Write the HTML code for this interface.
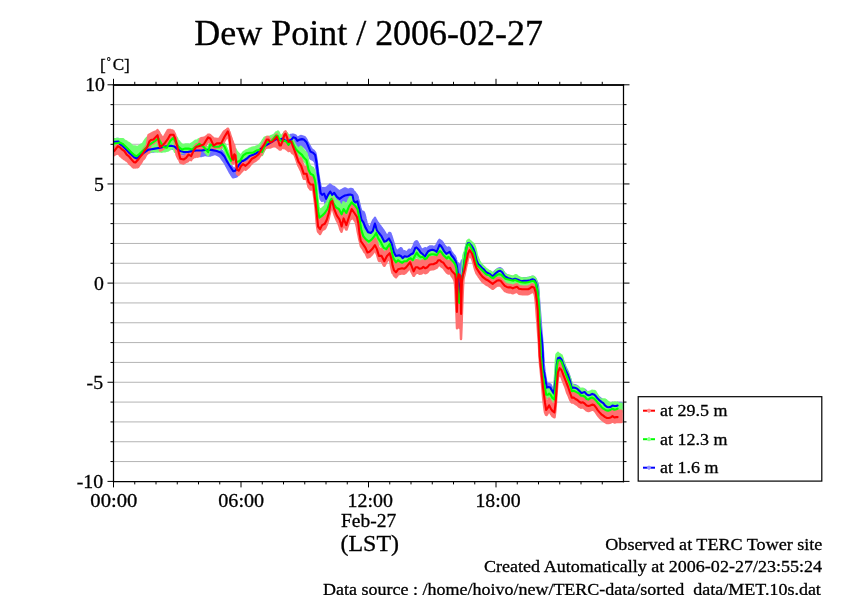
<!DOCTYPE html>
<html><head><meta charset="utf-8"><style>
html,body{margin:0;padding:0;background:#fff;}
svg{display:block;will-change:transform;}
text{font-family:"Liberation Serif","Times New Roman",serif;fill:#000;stroke:#000;stroke-width:0.3;}
.g{stroke:#b4b4b4;stroke-width:1;}
.t{stroke:#000;stroke-width:1;fill:none;}
.f{stroke:#000;stroke-width:1.3;fill:none;}
</style></head><body>
<svg width="842" height="595" viewBox="0 0 842 595">
<defs><clipPath id="pc"><rect x="113.5" y="84.8" width="510" height="396.6"/></clipPath></defs>
<rect width="842" height="595" fill="#fff"/>
<text x="194.22" y="45.3" font-size="35.0" textLength="348.82" lengthAdjust="spacingAndGlyphs">Dew Point / 2006-02-27</text>
<text x="341.01" y="526.6" font-size="19.2" textLength="55.28" lengthAdjust="spacingAndGlyphs">Feb-27</text>
<text x="340.52" y="550.7" font-size="22.3" textLength="58.53" lengthAdjust="spacingAndGlyphs">(LST)</text>
<text x="660.07" y="415.6" font-size="17" textLength="67.39" lengthAdjust="spacingAndGlyphs">at 29.5 m</text>
<text x="605.28" y="549.7" font-size="17.2" textLength="217.15" lengthAdjust="spacingAndGlyphs">Observed at TERC Tower site</text>
<text x="484.08" y="571.6" font-size="17.2" textLength="337.97" lengthAdjust="spacingAndGlyphs">Created Automatically at 2006-02-27/23:55:24</text>
<text x="323.06" y="594.5" font-size="17.2" textLength="497.82" lengthAdjust="spacingAndGlyphs">Data source : /home/hoivo/new/TERC-data/sorted_data/MET.10s.dat</text>
<text x="660.07" y="444.6" font-size="17" textLength="67.39" lengthAdjust="spacingAndGlyphs">at 12.3 m</text>
<text x="660.07" y="472.7" font-size="17" textLength="58.40" lengthAdjust="spacingAndGlyphs">at 1.6 m</text>
<text x="90.33" y="506.8" font-size="19.8" textLength="47.06" lengthAdjust="spacingAndGlyphs">00:00</text>
<text x="218.24" y="506.8" font-size="19.8" textLength="45.92" lengthAdjust="spacingAndGlyphs">06:00</text>
<text x="347.56" y="506.8" font-size="19.8" textLength="45.40" lengthAdjust="spacingAndGlyphs">12:00</text>
<text x="475.47" y="506.8" font-size="19.8" textLength="45.08" lengthAdjust="spacingAndGlyphs">18:00</text>
<text x="100.1" y="70.9" font-size="17.3">[</text>
<text x="106.8" y="64.6" font-size="10">°</text>
<text x="112.8" y="69.9" font-size="16.3" textLength="11.42" lengthAdjust="spacingAndGlyphs">C</text>
<text x="124.0" y="70.9" font-size="17.3">]</text>
<g font-size="19.8" text-anchor="end">
<text x="105" y="90.8">10</text>
<text x="103.9" y="190.8">5</text>
<text x="103.8" y="289.8">0</text>
<text x="103.1" y="388.8">-5</text>
<text x="103.1" y="487.9">-10</text>
</g>
<line x1="113.5" x2="623.5" y1="461.57" y2="461.57" class="g"/>
<line x1="113.5" x2="623.5" y1="441.74" y2="441.74" class="g"/>
<line x1="113.5" x2="623.5" y1="421.91" y2="421.91" class="g"/>
<line x1="113.5" x2="623.5" y1="402.08" y2="402.08" class="g"/>
<line x1="113.5" x2="623.5" y1="382.25" y2="382.25" class="g"/>
<line x1="113.5" x2="623.5" y1="362.42" y2="362.42" class="g"/>
<line x1="113.5" x2="623.5" y1="342.59" y2="342.59" class="g"/>
<line x1="113.5" x2="623.5" y1="322.76" y2="322.76" class="g"/>
<line x1="113.5" x2="623.5" y1="302.93" y2="302.93" class="g"/>
<line x1="113.5" x2="623.5" y1="283.10" y2="283.10" class="g"/>
<line x1="113.5" x2="623.5" y1="263.27" y2="263.27" class="g"/>
<line x1="113.5" x2="623.5" y1="243.44" y2="243.44" class="g"/>
<line x1="113.5" x2="623.5" y1="223.61" y2="223.61" class="g"/>
<line x1="113.5" x2="623.5" y1="203.78" y2="203.78" class="g"/>
<line x1="113.5" x2="623.5" y1="183.95" y2="183.95" class="g"/>
<line x1="113.5" x2="623.5" y1="164.12" y2="164.12" class="g"/>
<line x1="113.5" x2="623.5" y1="144.29" y2="144.29" class="g"/>
<line x1="113.5" x2="623.5" y1="124.46" y2="124.46" class="g"/>
<line x1="113.5" x2="623.5" y1="104.63" y2="104.63" class="g"/>
<g clip-path="url(#pc)">
<path d="M113.5,139.5 114,139.4 114.5,139.4 115,139.3 115.5,139.3 116,139.2 116.5,139.2 117,139.1 117.5,139.1 118,139 118.5,139 119,140 119.5,141.1 120,141.6 120.5,141.9 121,142.3 121.5,142.6 122,143 122.5,143.3 123,143.8 123.5,144.3 124,144.8 124.5,145.3 125,145.8 125.5,146.3 126,146.9 126.5,147.4 127,147.9 127.5,148.5 128,149.1 128.5,149.6 129,150 129.5,150.5 130,150.9 130.5,151.4 131,151.8 131.5,152.3 132,152.8 132.5,153.3 133,153.7 133.5,154.2 134,154.7 134.5,155.1 135,155.3 135.5,155.5 136,155.7 136.5,155.9 137,155.8 137.5,155.3 138,154.9 138.5,154.5 139,154.1 139.5,153.7 140,153.3 140.5,152.8 141,152.4 141.5,152 142,151.6 142.5,151.3 143,150.9 143.5,150.6 144,150.2 144.5,149.9 145,149.6 145.5,149.2 146,148.9 146.5,148.5 147,148.2 147.5,147.8 148,147.5 148.5,147.1 149,147.1 149.5,147 150,147 150.5,146.9 151,146.8 151.5,146.7 152,146.6 152.5,146.6 153,146.5 153.5,146.4 154,146.3 154.5,146.2 155,146.1 155.5,146 156,145.9 156.5,145.9 157,145.8 157.5,145.7 158,145.6 158.5,145.6 159,145.5 159.5,145.4 160,145.3 160.5,145.2 161,145.1 161.5,144.9 162,144.8 162.5,144.7 163,144.5 163.5,144.4 164,144.3 164.5,144.2 165,144 165.5,143.9 166,143.9 166.5,143.8 167,143.7 167.5,143.7 168,143.6 168.5,143.5 169,143.5 169.5,143.4 170,143.3 170.5,143.3 171,143.2 171.5,143.3 172,143.4 172.5,143.6 173,143.7 173.5,143.8 174,143.9 174.5,144.1 175,144.5 175.5,144.9 176,145.3 176.5,145.8 177,146.2 177.5,146.5 178,146.9 178.5,147.3 179,147.6 179.5,148 180,148.4 180.5,148.7 181,148.8 181.5,148.9 182,149.1 182.5,149.2 183,149.3 183.5,149.5 184,149.5 184.5,149.5 185,149.5 185.5,149.5 186,149.5 186.5,149.5 187,149.5 187.5,149.5 188,149.5 188.5,149.3 189,149.2 189.5,149.1 190,149 190.5,148.9 191,148.8 191.5,148.7 192,148.6 192.5,148.5 193,148.5 193.5,148.4 194,148.3 194.5,148.2 195,148.2 195.5,148.1 196,148 196.5,148 197,148 197.5,148 198,148 198.5,148 199,148 199.5,148 200,148 200.5,148 201,148 201.5,148 202,147.9 202.5,147.9 203,147.8 203.5,147.7 204,147.7 204.5,147.6 205,147.5 205.5,147.5 206,147.4 206.5,147.4 207,147.4 207.5,147.4 208,147.4 208.5,147.4 209,147.4 209.5,147.4 210,147.4 210.5,147.4 211,147.4 211.5,147.4 212,147.5 212.5,147.6 213,147.7 213.5,147.8 214,147.9 214.5,148 215,148.1 215.5,148.2 216,148.3 216.5,148.4 217,148.6 217.5,148.8 218,149 218.5,149.2 219,149.3 219.5,149.5 220,149.7 220.5,149.9 221,150.1 221.5,150.5 222,151.1 222.5,151.7 223,152.3 223.5,152.8 224,153.4 224.5,154 225,155 225.5,156 226,157 226.5,158 227,158.9 227.5,159.7 228,160.5 228.5,161.3 229,162.2 229.5,163 230,163.8 230.5,164.6 231,165.3 231.5,166.1 232,166.9 232.5,167.6 233,168.4 233.5,168.6 234,168.5 234.5,168.4 235,168.3 235.5,168 236,167.2 236.5,166.4 237,165.5 237.5,164.7 238,163.9 238.5,163 239,162.3 239.5,161.7 240,161 240.5,160.4 241,159.7 241.5,159.1 242,158.4 242.5,158.4 243,158.4 243.5,158.3 244,157.9 244.5,157.6 245,157.3 245.5,156.9 246,156.6 246.5,156.3 247,155.8 247.5,155.4 248,155 248.5,154.5 249,154.1 249.5,153.7 250,153.3 250.5,153.2 251,153 251.5,152.8 252,152.7 252.5,152.5 253,152.3 253.5,152.1 254,151.9 254.5,151.6 255,151.4 255.5,151.1 256,150.9 256.5,150.6 257,150.1 257.5,149.6 258,149.1 258.5,148.6 259,148.1 259.5,147.6 260,147.1 260.5,146.7 261,146.3 261.5,145.9 262,145.5 262.5,145 263,144.6 263.5,144.3 264,144 264.5,143.7 265,143.3 265.5,143 266,142.7 266.5,142.4 267,142.2 267.5,141.9 268,141.6 268.5,141.3 269,141 269.5,140.7 270,140.4 270.5,140.1 271,139.8 271.5,139.5 272,139.2 272.5,138.9 273,138.6 273.5,138.2 274,137.9 274.5,137.6 275,137.3 275.5,137 276,136.7 276.5,136.7 277,136.9 277.5,137.1 278,137.3 278.5,137.4 279,137.4 279.5,137.2 280,137.1 280.5,136.9 281,136.7 281.5,136.5 282,136.3 282.5,136.1 283,136.3 283.5,136.7 284,137.1 284.5,137.5 285,137.9 285.5,138.3 286,138.3 286.5,138.3 287,138.3 287.5,138.3 288,138.3 288.5,138.3 289,138.3 289.5,137.2 290,136.2 290.5,135.1 291,135.1 291.5,135.1 292,134.9 292.5,134.8 293,134.6 293.5,134.8 294,135 294.5,135.1 295,135.3 295.5,135.4 296,136.2 296.5,137 297,137.7 297.5,137.9 298,137.5 298.5,137.3 299,137 299.5,136.7 300,136.5 300.5,136.2 301,136.1 301.5,136.2 302,136.3 302.5,136.5 303,136.7 303.5,136.8 304,137 304.5,137.2 305,137.6 305.5,138.3 306,139.1 306.5,139.7 307,140.9 307.5,142 308,142.9 308.5,143.9 309,144.8 309.5,145.6 310,146.5 310.5,147.6 311,148.1 311.5,149 312,149.6 312.5,150.1 313,150.3 313.5,150.7 314,151.2 314.5,151.8 315,152.3 315.5,153.9 316,156.8 316.5,159.6 317,163.8 317.5,168 318,172 318.5,175.3 319,178.4 319.5,181.4 320,183.9 320.5,186.8 321,187.4 321.5,187.9 322,188.3 322.5,188.3 323,188.4 323.5,188.5 324,188.1 324.5,188.4 325,188.3 325.5,188 326,188.5 326.5,187.8 327,187.3 327.5,186.9 328,186.4 328.5,186 329,185.6 329.5,185.2 330,184.6 330.5,184.8 331,185.4 331.5,185.7 332,186.3 332.5,186.5 333,186.7 333.5,187 334,187.1 334.5,187.5 335,188 335.5,188.4 336,188.7 336.5,189.2 337,189.7 337.5,190.1 338,190.5 338.5,190.9 339,191.2 339.5,191.4 340,191 340.5,190.7 341,190.5 341.5,190.2 342,190 342.5,189.7 343,189.4 343.5,189.1 344,188.8 344.5,188.5 345,188.4 345.5,188.5 346,188.8 346.5,189.1 347,189.4 347.5,189.7 348,189.8 348.5,189.8 349,189.6 349.5,189.3 350,189.1 350.5,188.9 351,188.9 351.5,189.2 352,189.6 352.5,189.3 353,190.5 353.5,191.3 354,191.7 354.5,192.1 355,192.7 355.5,193.6 356,194.1 356.5,194.7 357,195.6 357.5,196.5 358,199 358.5,200.9 359,202.9 359.5,204.8 360,207 360.5,209 361,210.5 361.5,211.7 362,211.5 362.5,211.7 363,211.9 363.5,212 364,213 364.5,214.4 365,216.4 365.5,218.6 366,220.5 366.5,222.5 367,224.1 367.5,225.2 368,226 368.5,226.6 369,227.2 369.5,227.8 370,227.8 370.5,227.2 371,225.9 371.5,224.4 372,223.1 372.5,221.9 373,220.9 373.5,219.9 374,219.4 374.5,218.7 375,217.9 375.5,219.2 376,220 376.5,220.8 377,221.8 377.5,222.3 378,223.1 378.5,223.8 379,224.5 379.5,225.2 380,225.8 380.5,226.5 381,227.2 381.5,227.8 382,228.5 382.5,229.2 383,229.9 383.5,230.5 384,231.4 384.5,232.3 385,233 385.5,233.9 386,234.8 386.5,235.8 387,236.1 387.5,235.9 388,235.1 388.5,234.4 389,233.2 389.5,232.9 390,232.9 390.5,233.7 391,235.2 391.5,236.5 392,238.1 392.5,239.8 393,241.4 393.5,243.2 394,244.9 394.5,246.5 395,248 395.5,249.3 396,250 396.5,250.6 397,251 397.5,251 398,250.6 398.5,250.2 399,249.7 399.5,249.3 400,248.8 400.5,248.3 401,248.2 401.5,248.7 402,249.6 402.5,250.8 403,251.2 403.5,251.4 404,251.4 404.5,251.2 405,251.5 405.5,251.8 406,252.1 406.5,252.6 407,252.5 407.5,252 408,251.1 408.5,250.3 409,249.8 409.5,249.7 410,250.1 410.5,250.5 411,250.4 411.5,250 412,249.1 412.5,248.2 413,247.4 413.5,246.2 414,244.8 414.5,243.5 415,242.3 415.5,241.8 416,241.7 416.5,241.3 417,241.5 417.5,242.2 418,243.2 418.5,244.2 419,245.2 419.5,246.2 420,247 420.5,248 421,248.6 421.5,249.1 422,249.3 422.5,249.5 423,249.5 423.5,249.3 424,248.8 424.5,248.5 425,248.4 425.5,248.2 426,248.5 426.5,248.9 427,249 427.5,248.7 428,248 428.5,247.3 429,247 429.5,246.7 430,246.5 430.5,246.4 431,246.4 431.5,246.4 432,246.5 432.5,246.6 433,246.8 433.5,246.9 434,247.1 434.5,247.2 435,247 435.5,246.5 436,245.8 436.5,245.4 437,244.4 437.5,243.3 438,242.2 438.5,241.2 439,240.6 439.5,239.9 440,240.3 440.5,240.6 441,240.8 441.5,241.4 442,242 442.5,242.6 443,243.3 443.5,244.1 444,244.9 444.5,245.6 445,246.2 445.5,246.8 446,247.4 446.5,248 447,248 447.5,248 448,247.8 448.5,247.5 449,247.7 449.5,248 450,249.1 450.5,250.3 451,251.3 451.5,252.2 452,252.8 452.5,253.6 453,254.3 453.5,254.8 454,255.4 454.5,255.9 455,256.9 455.5,258 456,260 456.5,261.7 457,263.1 457.5,264.4 458,263.3 458.5,264.2 459,266.5 459.5,266.6 460,265.4 460.5,264.9 461,264.6 461.5,262.5 462,260.5 462.5,263.1 463,264.7 463.5,265.8 464,261.9 464.5,258.4 465,254.8 465.5,251.4 466,248.3 466.5,245.1 467,243.5 467.5,241.9 468,240.9 468.5,240.9 469,240.9 469.5,240.9 470,241.4 470.5,242 471,242.5 471.5,243.3 472,244.1 472.5,244.9 473,245.8 473.5,246.6 474,247.9 474.5,249.3 475,250.6 475.5,253 476,255.3 476.5,257.7 477,258.9 477.5,260 478,261.2 478.5,261.7 479,262.2 479.5,262.6 480,263.1 480.5,263.7 481,264.3 481.5,264.9 482,265.6 482.5,266 483,266.4 483.5,266.8 484,267.1 484.5,267.7 485,268.4 485.5,269 486,269.7 486.5,270 487,270.2 487.5,270.5 488,270.8 488.5,271 489,271.2 489.5,271.5 490,271.8 490.5,272.2 491,272.7 491.5,273.1 492,273.6 492.5,273.6 493,273.2 493.5,272.8 494,272.4 494.5,272 495,271.5 495.5,271 496,270.5 496.5,270.1 497,269.7 497.5,269.3 498,268.9 498.5,268.7 499,268.6 499.5,268.4 500,268.3 500.5,268.4 501,268.8 501.5,269.2 502,269.6 502.5,270.3 503,271.1 503.5,272 504,272.8 504.5,273.4 505,273.8 505.5,274.2 506,274.6 506.5,274.9 507,275.1 507.5,275.4 508,275.6 508.5,275.9 509,276 509.5,276.1 510,276.2 510.5,276.4 511,276.7 511.5,276.9 512,277.2 512.5,277.2 513,277 513.5,276.9 514,276.7 514.5,276.5 515,276.3 515.5,276.4 516,276.6 516.5,276.8 517,276.9 517.5,277.1 518,277.2 518.5,277.4 519,277.7 519.5,277.9 520,278.2 520.5,278.4 521,278.7 521.5,278.6 522,278.5 522.5,278.5 523,278.4 523.5,278.3 524,278.2 524.5,278.2 525,278.2 525.5,278.2 526,278.2 526.5,278.2 527,278.2 527.5,278.1 528,278.1 528.5,278 529,277.9 529.5,277.8 530,277.7 530.5,277.5 531,277.3 531.5,277.1 532,276.9 532.5,276.7 533,276.9 533.5,277.1 534,277.4 534.5,277.6 535,278.3 535.5,279.3 536,280 536.5,281.3 537,282.4 537.5,283.8 538,286.4 538.5,291.7 539,300.3 539.5,306.7 540,312.8 540.5,319.6 541,326.5 541.5,332.9 542,338.4 542.5,346.1 543,352.1 543.5,363.9 544,366.7 544.5,371.4 545,374.6 545.5,377.5 546,380.4 546.5,382.9 547,384.3 547.5,383.9 548,383.9 548.5,383.8 549,384 549.5,384.2 550,384.5 550.5,384.7 551,385.7 551.5,386.7 552,387.9 552.5,388.8 553,389.6 553.5,390.5 554,389.4 554.5,385.5 555,381.6 555.5,377.7 556,371.8 556.5,365.4 557,360.5 557.5,357.8 558,355.7 558.5,355.5 559,355.3 559.5,355.2 560,355.4 560.5,355.9 561,356.4 561.5,356.9 562,358.3 562.5,359.7 563,361 563.5,362.3 564,363.6 564.5,364.8 565,366 565.5,367.3 566,368.3 566.5,369.3 567,370.4 567.5,371.4 568,372.5 568.5,374 569,375.5 569.5,376.9 570,378.4 570.5,380.1 571,382.1 571.5,384.2 572,385.4 572.5,385.3 573,385.1 573.5,385 574,385.1 574.5,385.2 575,385.3 575.5,385.4 576,385.7 576.5,385.9 577,386.2 577.5,386.5 578,387 578.5,387.5 579,388 579.5,388.6 580,389.2 580.5,389.8 581,390.4 581.5,390.4 582,390.3 582.5,390.2 583,390.1 583.5,389.9 584,389.8 584.5,389.7 585,389.9 585.5,390.5 586,391.1 586.5,391.8 587,392.1 587.5,392.3 588,392.6 588.5,392.8 589,392.7 589.5,392.6 590,392.5 590.5,392.3 591,392 591.5,391.8 592,391.5 592.5,391.5 593,391.6 593.5,391.8 594,391.9 594.5,392.4 595,392.9 595.5,393.4 596,393.9 596.5,394.6 597,395.2 597.5,395.8 598,396.4 598.5,396.9 599,397.3 599.5,397.8 600,398.2 600.5,398.6 601,399 601.5,399.4 602,399.7 602.5,400.1 603,400.5 603.5,401 604,401.6 604.5,402.2 605,402.9 605.5,403.3 606,403.7 606.5,404 607,404.4 607.5,404.5 608,404.6 608.5,404.7 609,404.8 609.5,404.7 610,404.5 610.5,404.4 611,404.2 611.5,403.8 612,403.4 612.5,403 613,403.1 613.5,403.3 614,403.4 614.5,403.5 615,403.5 615.5,403.5 616,403.5 616.5,403.4 617,403.2 617.5,403 618,403 618.5,403 619,403 619.5,403 620,403 620.5,403 621,403 621.5,403 621.5,408 621,408 620.5,408 620,408 619.5,408 619,408 618.5,408 618,408 617.5,408 617,408.2 616.5,408.4 616,408.5 615.5,408.5 615,408.5 614.5,408.5 614,408.4 613.5,408.3 613,408.1 612.5,408 612,408.4 611.5,408.8 611,409.2 610.5,409.4 610,409.5 609.5,409.7 609,409.8 608.5,409.7 608,409.6 607.5,409.5 607,409.4 606.5,409 606,408.7 605.5,408.3 605,407.9 604.5,407.2 604,406.6 603.5,406 603,405.5 602.5,405.1 602,404.7 601.5,404.4 601,404 600.5,403.6 600,403.2 599.5,402.8 599,402.3 598.5,401.9 598,401.4 597.5,400.8 597,400.2 596.5,399.6 596,398.9 595.5,398.4 595,397.9 594.5,397.4 594,396.9 593.5,396.8 593,396.6 592.5,396.5 592,396.5 591.5,396.8 591,397 590.5,397.3 590,397.5 589.5,397.6 589,397.7 588.5,397.8 588,397.6 587.5,397.3 587,397.1 586.5,396.8 586,396.1 585.5,395.5 585,394.9 584.5,394.7 584,394.8 583.5,394.9 583,395.1 582.5,395.2 582,395.3 581.5,395.4 581,395.4 580.5,394.8 580,394.2 579.5,393.6 579,393 578.5,392.5 578,392 577.5,391.5 577,391.2 576.5,390.9 576,390.7 575.5,390.4 575,390.3 574.5,390.2 574,390.1 573.5,390 573,390.1 572.5,390.3 572,390.4 571.5,389.2 571,387.1 570.5,385.1 570,383.4 569.5,381.9 569,380.5 568.5,379 568,377.5 567.5,376.4 567,375.4 566.5,374.3 566,373.3 565.5,372.3 565,371 564.5,369.8 564,368.6 563.5,367.3 563,366 562.5,364.7 562,363.3 561.5,361.9 561,361.4 560.5,360.9 560,360.4 559.5,360.2 559,360.3 558.5,360.5 558,360.7 557.5,362.8 557,365.5 556.5,370.4 556,376.8 555.5,382.7 555,386.6 554.5,390.5 554,394.4 553.5,395.5 553,394.6 552.5,393.8 552,392.9 551.5,392.1 551,391.3 550.5,390.4 550,390 549.5,389.9 549,389.7 548.5,389.6 548,389.7 547.5,389.9 547,390 546.5,388.4 546,385.4 545.5,382.5 545,379.6 544.5,377 544,374.3 543.5,371.7 543,359.3 542.5,351.2 542,344 541.5,340.2 541,336.3 540.5,333.7 540,331 539.5,328.3 539,322.1 538.5,312.2 538,304.1 537.5,298.5 537,294 536.5,291 536,288.8 535.5,287.8 535,286.8 534.5,286.1 534,285.9 533.5,285.6 533,285.4 532.5,285.2 532,285.4 531.5,285.6 531,285.8 530.5,286 530,286.2 529.5,286.3 529,286.4 528.5,286.5 528,286.6 527.5,286.6 527,286.7 526.5,286.7 526,286.7 525.5,286.7 525,286.7 524.5,286.7 524,286.7 523.5,286.8 523,286.9 522.5,287 522,287 521.5,287.1 521,287.2 520.5,286.9 520,286.7 519.5,286.4 519,286.2 518.5,285.9 518,285.7 517.5,285.6 517,285.4 516.5,285.2 516,285.1 515.5,284.9 515,284.8 514.5,285 514,285.2 513.5,285.4 513,285.5 512.5,285.7 512,285.7 511.5,285.4 511,285.2 510.5,284.9 510,284.7 509.5,284.6 509,284.5 508.5,284.4 508,284.1 507.5,283.9 507,283.6 506.5,283.4 506,283.1 505.5,282.7 505,282.3 504.5,281.9 504,281.3 503.5,280.5 503,279.6 502.5,278.8 502,278.1 501.5,277.7 501,277.3 500.5,276.9 500,276.8 499.5,276.9 499,277.1 498.5,277.2 498,277.4 497.5,277.8 497,278.2 496.5,278.6 496,279 495.5,279.5 495,280 494.5,280.5 494,280.9 493.5,281.3 493,281.7 492.5,282.1 492,282.1 491.5,281.6 491,281.2 490.5,280.7 490,280.2 489.5,280 489,279.8 488.5,279.5 488,279.2 487.5,279 487,278.8 486.5,278.5 486,278.2 485.5,277.5 485,276.9 484.5,276.2 484,275.6 483.5,275.2 483,274.9 482.5,274.5 482,274.1 481.5,273.4 481,272.8 480.5,272.2 480,271.6 479.5,271.1 479,270.7 478.5,270.2 478,269.7 477.5,268.5 477,267.4 476.5,266.2 476,263.8 475.5,261.5 475,259.1 474.5,257.8 474,256.4 473.5,255.1 473,254.2 472.5,253.4 472,252.6 471.5,251.8 471,251 470.5,250.5 470,249.9 469.5,249.4 469,249.4 468.5,249.4 468,249.4 467.5,250.4 467,252 466.5,253.6 466,256.8 465.5,259.9 465,263.3 464.5,266.9 464,270.4 463.5,274.3 463,278.2 462.5,281.2 462,283.1 461.5,285 461,288.2 460.5,291.4 460,295.5 459.5,298.5 459,296 458.5,287.7 458,280.3 457.5,276.5 457,272.8 456.5,270.2 456,268.5 455.5,266.9 455,266.1 454.5,265.3 454,264.5 453.5,263.7 453,263.1 452.5,262.5 452,261.9 451.5,261.3 451,260.4 450.5,259.4 450,258.4 449.5,257.9 449,258.2 448.5,258.5 448,258.8 447.5,259.2 447,259.5 446.5,259.8 446,259.5 445.5,258.9 445,258.4 444.5,257.8 444,257 443.5,256.1 443,255.1 442.5,254.3 442,253.5 441.5,252.8 441,252 440.5,251.5 440,251.1 439.5,250.9 439,252.1 438.5,253.4 438,254.6 437.5,255.8 437,257.1 436.5,257.7 436,257.3 435.5,257 435,256.7 434.5,256.5 434,256.3 433.5,256.1 433,255.9 432.5,255.8 432,255.8 431.5,255.9 431,256 430.5,256.1 430,256.4 429.5,256.6 429,256.9 428.5,257.1 428,257.6 427.5,258.4 427,259.1 426.5,259.9 426,260.7 425.5,261.5 425,262.4 424.5,262.3 424,261.7 423.5,261.1 423,260.4 422.5,260 422,259.6 421.5,259.3 421,258.9 420.5,258.4 420,257.6 419.5,256.9 419,256.1 418.5,255.5 418,255 417.5,254.4 417,253.9 416.5,253.7 416,253.8 415.5,254 415,254.6 414.5,255.9 414,257.2 413.5,258.4 413,259.3 412.5,259.5 412,259.8 411.5,260 411,260.4 410.5,260.7 410,261.1 409.5,261.5 409,261.9 408.5,262.2 408,262.4 407.5,262.5 407,262.6 406.5,262.7 406,262.5 405.5,262.4 405,262.3 404.5,262.3 404,262.8 403.5,263.3 403,263.8 402.5,264.1 402,263.4 401.5,262.7 401,262.1 400.5,261.9 400,261.6 399.5,261.4 399,261.2 398.5,261.4 398,261.5 397.5,261.6 397,261.7 396.5,261.8 396,261.9 395.5,261.5 395,260.5 394.5,259.4 394,258.4 393.5,257 393,255 392.5,253 392,251 391.5,249.4 391,248.4 390.5,247.4 390,246.4 389.5,245.4 389,244.4 388.5,244.9 388,245.4 387.5,245.9 387,246.4 386.5,246.9 386,247.2 385.5,247.3 385,247.5 384.5,247.6 384,247.1 383.5,246.1 383,245.1 382.5,244.2 382,243.2 381.5,242.3 381,241.6 380.5,241 380,240.4 379.5,239.8 379,239.1 378.5,238.5 378,237.8 377.5,237.1 377,236.4 376.5,235 376,233.3 375.5,231.6 375,229.9 374.5,231 374,232.8 373.5,234.5 373,236.3 372.5,237.3 372,237.8 371.5,238.3 371,238.8 370.5,238.9 370,238.8 369.5,238.7 369,238.5 368.5,238.4 368,238.1 367.5,237.2 367,236.3 366.5,235.4 366,234.5 365.5,233.6 365,232.3 364.5,231.1 364,229.8 363.5,228.6 363,227.8 362.5,227.1 362,226.4 361.5,225.7 361,223.6 360.5,221.1 360,218.5 359.5,216 359,213.9 358.5,211.9 358,209.8 357.5,207.8 357,207.6 356.5,207.9 356,208.2 355.5,208.5 355,208.1 354.5,207.6 354,207.2 353.5,206 353,203.6 352.5,201.2 352,201 351.5,200.9 351,200.7 350.5,200.6 350,200.5 349.5,200.6 349,200.7 348.5,200.8 348,200.8 347.5,200.9 347,201 346.5,201.1 346,201.3 345.5,201.4 345,201.5 344.5,201.7 344,202 343.5,202.3 343,202.5 342.5,202.8 342,203.1 341.5,203.5 341,203.9 340.5,204.2 340,204.6 339.5,204.8 339,204.5 338.5,204.1 338,203.7 337.5,203.3 337,203 336.5,202.3 336,201.5 335.5,200.8 335,200 334.5,199.3 334,199 333.5,199.5 333,200.1 332.5,200.6 332,200.6 331.5,199.7 331,198.9 330.5,198 330,197.8 329.5,198.6 329,199.4 328.5,200.3 328,201.1 327.5,202.1 327,203.1 326.5,204.1 326,204.6 325.5,203.3 325,201.9 324.5,200.6 324,199.6 323.5,199.9 323,200.3 322.5,200.6 322,200.8 321.5,200.1 321,199.5 320.5,198.2 320,194.5 319.5,190.7 319,187.2 318.5,184.2 318,181.1 317.5,177.5 317,173.3 316.5,169.4 316,166.6 315.5,163.7 315,161.8 314.5,161.3 314,160.7 313.5,160.2 313,159.8 312.5,159.6 312,159.3 311.5,159.1 311,158.8 310.5,158.6 310,157.4 309.5,156.2 309,155.1 308.5,153.9 308,152.7 307.5,151.6 307,150.4 306.5,149.2 306,148.7 305.5,148.2 305,147.7 304.5,147.2 304,146.7 303.5,146.4 303,146.3 302.5,146.2 302,146.1 301.5,146.2 301,146.3 300.5,146.4 300,146.5 299.5,146.7 299,146.9 298.5,147.2 298,147.4 297.5,147.7 297,147.3 296.5,146.5 296,145.7 295.5,144.9 295,144.8 294.5,144.6 294,144.5 293.5,144.4 293,144.6 292.5,145.2 292,145.8 291.5,146.5 291,146.8 290.5,147.1 290,145.8 289.5,144.6 289,143.3 288.5,143.3 288,143.3 287.5,143.3 287,143.3 286.5,143.3 286,143.3 285.5,143.3 285,142.9 284.5,142.5 284,142.1 283.5,141.7 283,141.3 282.5,141.1 282,141.3 281.5,141.5 281,141.7 280.5,141.9 280,142.1 279.5,142.2 279,142.4 278.5,142.4 278,142.3 277.5,142.1 277,141.9 276.5,141.7 276,141.7 275.5,142 275,142.3 274.5,142.6 274,142.9 273.5,143.2 273,143.6 272.5,143.9 272,144.2 271.5,144.5 271,144.8 270.5,145.1 270,145.4 269.5,145.7 269,146 268.5,146.3 268,146.6 267.5,146.9 267,147.2 266.5,147.4 266,147.7 265.5,148 265,148.3 264.5,148.7 264,149 263.5,149.3 263,149.6 262.5,150 262,150.5 261.5,150.9 261,151.3 260.5,151.7 260,152.1 259.5,152.6 259,153.1 258.5,153.6 258,154.1 257.5,154.6 257,155.1 256.5,155.6 256,155.9 255.5,156.1 255,156.4 254.5,156.6 254,156.9 253.5,157.1 253,157.3 252.5,157.5 252,157.7 251.5,157.8 251,158 250.5,158.2 250,158.3 249.5,158.7 249,159.1 248.5,159.5 248,160 247.5,160.4 247,160.8 246.5,161.3 246,161.6 245.5,161.9 245,162.3 244.5,162.6 244,162.9 243.5,163.3 243,163.4 242.5,163.4 242,163.4 241.5,164.1 241,164.7 240.5,165.4 240,166 239.5,166.7 239,167.3 238.5,168 238,170.9 237.5,173.6 237,176.1 236.5,176.3 236,176.5 235.5,176.8 235,176.8 234.5,176.9 234,177 233.5,177.3 233,177.2 232.5,176.5 232,175.7 231.5,175 231,174.2 230.5,173.4 230,172.6 229.5,171.7 229,170.7 228.5,169.8 228,168.8 227.5,167.9 227,167 226.5,166.1 226,165.1 225.5,164.1 225,163.3 224.5,162.4 224,161.8 223.5,161.1 223,160.4 222.5,159.7 222,159 221.5,158.2 221,157.5 220.5,156.9 220,156.4 219.5,156 219,155.7 218.5,155.5 218,155.2 217.5,155 217,154.7 216.5,154.5 216,154.3 215.5,154 215,153.9 214.5,154 214,154.2 213.5,154.3 213,154.5 212.5,154.7 212,154.9 211.5,155 211,155.2 210.5,155.4 210,155.5 209.5,155.5 209,155.5 208.5,155.4 208,155.4 207.5,155.3 207,155.2 206.5,155.2 206,155.1 205.5,155.1 205,155.1 204.5,155.1 204,155.2 203.5,155.4 203,155.5 202.5,155.6 202,155.7 201.5,155.9 201,156 200.5,156.1 200,155.1 199.5,154.1 199,153 198.5,153 198,153 197.5,153 197,153 196.5,153 196,153 195.5,153.1 195,153.2 194.5,153.2 194,153.3 193.5,153.4 193,153.5 192.5,153.5 192,153.6 191.5,153.7 191,153.8 190.5,153.9 190,154 189.5,154.1 189,154.2 188.5,154.3 188,154.5 187.5,154.5 187,154.5 186.5,154.5 186,154.5 185.5,154.5 185,154.5 184.5,154.5 184,154.5 183.5,154.5 183,154.3 182.5,154.2 182,154.1 181.5,153.9 181,153.8 180.5,153.7 180,153.4 179.5,153 179,152.6 178.5,152.3 178,151.9 177.5,151.5 177,151.2 176.5,150.8 176,150.3 175.5,149.9 175,149.5 174.5,149.1 174,148.9 173.5,148.8 173,148.7 172.5,148.6 172,148.4 171.5,148.3 171,148.2 170.5,148.3 170,148.3 169.5,148.4 169,148.5 168.5,148.5 168,148.6 167.5,148.7 167,148.7 166.5,148.8 166,148.9 165.5,148.9 165,149 164.5,149.2 164,149.3 163.5,149.4 163,149.5 162.5,149.7 162,149.8 161.5,149.9 161,150.1 160.5,150.2 160,150.3 159.5,150.4 159,150.5 158.5,150.6 158,150.6 157.5,150.7 157,150.8 156.5,150.9 156,150.9 155.5,151 155,151.1 154.5,151.2 154,151.3 153.5,151.4 153,151.5 152.5,151.6 152,151.6 151.5,151.7 151,151.8 150.5,151.9 150,152 149.5,152 149,152.1 148.5,152.1 148,152.5 147.5,152.8 147,153.2 146.5,153.5 146,153.9 145.5,154.2 145,154.6 144.5,154.9 144,155.2 143.5,155.6 143,155.9 142.5,156.3 142,156.6 141.5,157 141,157.4 140.5,157.8 140,158.3 139.5,158.7 139,159.1 138.5,159.5 138,159.9 137.5,160.3 137,160.8 136.5,160.9 136,160.7 135.5,160.5 135,160.3 134.5,160.1 134,159.7 133.5,159.2 133,158.7 132.5,158.3 132,157.8 131.5,157.3 131,156.8 130.5,156.4 130,155.9 129.5,155.5 129,155 128.5,154.6 128,154.1 127.5,153.5 127,152.9 126.5,152.4 126,151.9 125.5,151.3 125,150.8 124.5,150.3 124,149.8 123.5,149.3 123,148.8 122.5,148.3 122,148 121.5,147.6 121,147.3 120.5,146.9 120,146.6 119.5,146.1 119,145 118.5,144 118,144 117.5,144.1 117,144.1 116.5,144.2 116,144.2 115.5,144.3 115,144.3 114.5,144.4 114,144.4 113.5,144.5Z" fill="#7070ff" stroke="#7070ff" stroke-width="2.5" stroke-linejoin="round"/>
<path d="M113.5,139.5 114,139.4 114.5,139.3 115,139.2 115.5,139.2 116,139.2 116.5,139.1 117,139.1 117.5,139.1 118,139 118.5,139.3 119,139.4 119.5,139.5 120,139.4 120.5,139.3 121,139.2 121.5,139.4 122,139.3 122.5,139.2 123,139.3 123.5,139.7 124,140.2 124.5,140.6 125,141.1 125.5,141.2 126,141.3 126.5,141.5 127,142.1 127.5,142.6 128,142.7 128.5,142.9 129,143.1 129.5,143.6 130,144 130.5,144.5 131,145 131.5,145.5 132,146 132.5,146.4 133,146.6 133.5,146.7 134,146.5 134.5,146.6 135,146.5 135.5,146.7 136,146.9 136.5,147.1 137,146.9 137.5,146.9 138,146.8 138.5,146.7 139,146.3 139.5,145.8 140,145.4 140.5,144.9 141,144.8 141.5,144.6 142,144.5 142.5,144.1 143,143.6 143.5,142.8 144,142 144.5,141.3 145,140.5 145.5,139.7 146,138.9 146.5,138.5 147,137.7 147.5,139.2 148,140.8 148.5,142.7 149,142.3 149.5,141.8 150,141.4 150.5,141.1 151,140.7 151.5,140.4 152,140 152.5,139.7 153,139.4 153.5,139 154,138.7 154.5,138.3 155,138 155.5,137.6 156,137.2 156.5,136.9 157,136.5 157.5,136.1 158,135.7 158.5,135.6 159,136.4 159.5,137.3 160,138.2 160.5,139 161,139.9 161.5,140.7 162,141.5 162.5,142.4 163,143.2 163.5,143.9 164,144.1 164.5,144.2 165,144.3 165.5,144.5 166,144.6 166.5,144.7 167,144.4 167.5,143.4 168,142.4 168.5,141.4 169,140.5 169.5,139.5 170,138.5 170.5,137.8 171,137.3 171.5,136.8 172,136.2 172.5,135.7 173,135.2 173.5,134.7 174,135.7 174.5,136.7 175,137.7 175.5,137.7 176,137.7 176.5,137.5 177,138.6 177.5,139.8 178,140.6 178.5,141.1 179,141.5 179.5,142.3 180,143 180.5,143.4 181,143.8 181.5,144.2 182,144.8 182.5,145 183,145.2 183.5,145.1 184,144.9 184.5,144.8 185,144.7 185.5,144.6 186,144.6 186.5,144.6 187,144.6 187.5,144.6 188,144.6 188.5,144.6 189,144.7 189.5,144.8 190,144.6 190.5,144.4 191,143.9 191.5,143.7 192,143.5 192.5,143.1 193,142.7 193.5,142.4 194,142 194.5,141.6 195,141.2 195.5,140.8 196,140.8 196.5,140.7 197,140.7 197.5,140.3 198,140 198.5,139.6 199,139.2 199.5,139.6 200,140.7 200.5,141.7 201,142.1 201.5,142.4 202,142.8 202.5,143.1 203,143.5 203.5,143.9 204,144.3 204.5,144.9 205,145.5 205.5,146.1 206,146.7 206.5,147.2 207,147.8 207.5,148.4 208,149 208.5,147.7 209,146 209.5,144.3 210,142.5 210.5,141.6 211,141.8 211.5,142.1 212,142.3 212.5,142.6 213,142.8 213.5,143.1 214,143.3 214.5,143.6 215,143.7 215.5,143.7 216,143.7 216.5,143.7 217,143.7 217.5,143.7 218,143.7 218.5,143.7 219,143.7 219.5,143.3 220,142.9 220.5,142.4 221,142 221.5,141.6 222,141.2 222.5,141.2 223,141.8 223.5,142.4 224,143.1 224.5,143.7 225,144.9 225.5,146 226,147.2 226.5,148.3 227,149.5 227.5,150.6 228,151.7 228.5,152.7 229,153.8 229.5,154.8 230,155.8 230.5,156.9 231,157.9 231.5,156.7 232,155.4 232.5,154.1 233,152.9 233.5,153 234,154 234.5,152.3 235,150.7 235.5,149.3 236,150.3 236.5,151.7 237,151.8 237.5,152.7 238,153.2 238.5,153.7 239,154.2 239.5,155 240,155.6 240.5,155.4 241,154.9 241.5,154.7 242,154.2 242.5,153.7 243,152.9 243.5,152.3 244,151.9 244.5,151.6 245,151.3 245.5,150.9 246,150.6 246.5,150.3 247,150.1 247.5,150.1 248,150 248.5,149.6 249,149.2 249.5,148.7 250,148.7 250.5,148.7 251,148.4 251.5,148 252,147.7 252.5,147.7 253,147.7 253.5,147.4 254,147.4 254.5,147.4 255,147.4 255.5,147.1 256,146.8 256.5,146.5 257,146.4 257.5,146.3 258,146.2 258.5,145.8 259,145.4 259.5,144.9 260,144.5 260.5,144 261,143.1 261.5,142.5 262,142.3 262.5,140.9 263,140.1 263.5,139.4 264,138.6 264.5,137.8 265,137.5 265.5,137.5 266,137.4 266.5,137.1 267,137 267.5,137 268,137 268.5,137 269,137 269.5,136.8 270,136.6 270.5,136.4 271,136.2 271.5,136 272,135.8 272.5,135.6 273,135.4 273.5,135.2 274,134.9 274.5,134.6 275,133.9 275.5,133.3 276,132.6 276.5,132.6 277,132.5 277.5,132 278,131.6 278.5,132.3 279,133.4 279.5,134.4 280,135.2 280.5,136 281,136.4 281.5,136.1 282,135.8 282.5,135 283,134.6 283.5,133.8 284,133.4 284.5,132.6 285,132.2 285.5,132.2 286,132.5 286.5,132.9 287,133.5 287.5,134.3 288,134.8 288.5,135.9 289,135.6 289.5,137.2 290,138.2 290.5,139.4 291,139.1 291.5,138.7 292,138.4 292.5,139.5 293,140.7 293.5,141.8 294,142.9 294.5,143.7 295,144.6 295.5,145.5 296,146.4 296.5,147 297,147.5 297.5,148 298,148.5 298.5,149 299,149.4 299.5,148.5 300,147.6 300.5,146.7 301,147.1 301.5,147.5 302,147.9 302.5,148.7 303,149.4 303.5,150.1 304,150.8 304.5,151.3 305,151.8 305.5,152.3 306,152.8 306.5,153.3 307,155.7 307.5,158 308,160.3 308.5,162.7 309,163.7 309.5,164.8 310,165.8 310.5,166.8 311,167 311.5,167.3 312,167.5 312.5,167.8 313,168 313.5,169 314,170.4 314.5,171.8 315,174.2 315.5,177.4 316,182.6 316.5,187.8 317,193.1 317.5,198.4 318,203.6 318.5,206.5 319,208.9 319.5,210.6 320,210.3 320.5,209.9 321,209.5 321.5,209.1 322,208.8 322.5,208.3 323,207.8 323.5,207.3 324,206.8 324.5,206.3 325,205.7 325.5,205 326,204.2 326.5,203.5 327,202.7 327.5,202 328,200.5 328.5,199 329,197.5 329.5,196 330,194.5 330.5,193.8 331,194 331.5,193.9 332,195.1 332.5,195.2 333,195.8 333.5,196.6 334,197.3 334.5,198.1 335,198.8 335.5,199.6 336,200.3 336.5,200.8 337,201 337.5,201.3 338,201.5 338.5,201.8 339,202.2 339.5,203.2 340,204.2 340.5,205.2 341,206.2 341.5,207.2 342,206.3 342.5,205 343,203.6 343.5,202.3 344,202.6 344.5,203.3 345,204.1 345.5,204.8 346,205.6 346.5,205.5 347,204.3 347.5,203 348,201.8 348.5,200.5 349,199.3 349.5,198.6 350,197.8 350.5,197.1 351,196.3 351.5,195.6 352,195.6 352.5,196.8 353,198.7 353.5,200.5 354,201.7 354.5,202.2 355,202.7 355.5,202.9 356,202.9 356.5,202.6 357,202.6 357.5,202.9 358,205 358.5,207 359,209.3 359.5,211.8 360,214.8 360.5,217.9 361,220.9 361.5,223.6 362,225.1 362.5,226.7 363,228.2 363.5,229.5 364,230.1 364.5,230.7 365,231.4 365.5,232 366,232.6 366.5,233 367,233.4 367.5,233.7 368,234.1 368.5,234.5 369,234.6 369.5,234.2 370,233.8 370.5,233.8 371,233.7 371.5,233.7 372,233.1 372.5,232.1 373,231.2 373.5,230.3 374,229.6 374.5,228.9 375,228 375.5,227.9 376,228 376.5,229.5 377,231.2 377.5,232.2 378,233.2 378.5,233.8 379,234.3 379.5,234.7 380,235.1 380.5,235.8 381,236.6 381.5,237.6 382,238.6 382.5,239.6 383,240.6 383.5,241.6 384,242 384.5,242.2 385,242.5 385.5,242.4 386,242.3 386.5,241.8 387,241.3 387.5,240.9 388,240.4 388.5,240 389,239.9 389.5,240.1 390,241.2 390.5,242.6 391,243.4 391.5,244.2 392,245.9 392.5,247.9 393,250.5 393.5,251.8 394,253.1 394.5,254.4 395,255.5 395.5,256.6 396,257.3 396.5,256.8 397,256.6 397.5,256.5 398,256.3 398.5,256.2 399,256.3 399.5,256.3 400,256.7 400.5,257 401,257.2 401.5,257.8 402,258.8 402.5,259.2 403,259.1 403.5,258.4 404,257.7 404.5,257.3 405,257.3 405.5,257.3 406,257.3 406.5,257.6 407,257.5 407.5,257.4 408,256.8 408.5,256.3 409,256 409.5,255.8 410,255.5 410.5,255.3 411,255.2 411.5,255 412,254.8 412.5,255 413,254.6 413.5,253.6 414,252.3 414.5,250.9 415,249.7 415.5,249.1 416,248.9 416.5,248.7 417,249.2 417.5,249.6 418,250 418.5,250.4 419,251.3 419.5,252 420,252.7 420.5,253.4 421,253.8 421.5,254 422,253.9 422.5,253.8 423,253.9 423.5,254.6 424,255.2 424.5,255.8 425,256.1 425.5,255.9 426,255.6 426.5,255 427,254.2 427.5,253.1 428,252.4 428.5,252 429,251.8 429.5,251.9 430,251.7 430.5,251.5 431,251.3 431.5,251.2 432,251.2 432.5,251.2 433,251.2 433.5,251.2 434,251.3 434.5,251.4 435,251.5 435.5,251.6 436,251.9 436.5,252.1 437,251.7 437.5,250.6 438,249.5 438.5,248.2 439,247 439.5,246.2 440,245.7 440.5,246.5 441,246.9 441.5,247.4 442,248.1 442.5,249.2 443,250.3 443.5,251.3 444,252.1 444.5,252.9 445,253.7 445.5,254.2 446,254.7 446.5,254.9 447,254.6 447.5,254.1 448,253.9 448.5,253.6 449,253.4 449.5,253.2 450,253.7 450.5,254.6 451,255.4 451.5,256.2 452,257.1 452.5,257.9 453,258.4 453.5,258.9 454,259.6 454.5,260.4 455,260.8 455.5,261.8 456,262.9 456.5,264.8 457,271.2 457.5,278 458,285.5 458.5,293 459,294.9 459.5,294.3 460,290 460.5,286.3 461,282.3 461.5,279.9 462,276.8 462.5,268.9 463,261.6 463.5,255.3 464,253.8 464.5,252.6 465,251.3 465.5,249.4 466,246.5 466.5,244.6 467,242.6 467.5,241 468,240.6 468.5,240.2 469,239.8 469.5,240.7 470,241.2 470.5,241.4 471,241.8 471.5,242.2 472,242.9 472.5,243.1 473,243.7 473.5,244.2 474,244.8 474.5,246.1 475,247.5 475.5,249.2 476,251.2 476.5,253.5 477,255.9 477.5,257 478,258.2 478.5,259.6 479,260.8 479.5,261.6 480,262.4 480.5,263.3 481,264.1 481.5,264.6 482,265.1 482.5,265.7 483,266.2 483.5,266.7 484,267.2 484.5,267.7 485,268.2 485.5,268.6 486,269 486.5,269.4 487,269.7 487.5,269.9 488,270.4 488.5,270.8 489,271.3 489.5,271.3 490,271.5 490.5,271.6 491,272.1 491.5,272.5 492,273 492.5,273.6 493,274.2 493.5,274 494,273.5 494.5,273 495,272.2 495.5,271.4 496,270.7 496.5,270.3 497,269.9 497.5,269.7 498,269.6 498.5,269.5 499,269.4 499.5,269.4 500,269.5 500.5,269.6 501,269.8 501.5,269.8 502,270.2 502.5,270.7 503,271.5 503.5,272 504,272.8 504.5,273.7 505,274.5 505.5,274.9 506,275 506.5,275.1 507,275.2 507.5,275.4 508,275.5 508.5,275.6 509,275.7 509.5,275.9 510,276 510.5,276.1 511,276.2 511.5,276.4 512,276.5 512.5,276.6 513,276.7 513.5,276.7 514,276.3 514.5,276 515,275.4 515.5,275.3 516,275.2 516.5,275.4 517,275.7 517.5,276.3 518,276.9 518.5,277.4 519,277.5 519.5,277.7 520,277.9 520.5,278 521,278.2 521.5,278.3 522,278.3 522.5,278.4 523,278.4 523.5,278.5 524,278.6 524.5,278.6 525,278.7 525.5,278.6 526,278.6 526.5,278.5 527,278.4 527.5,278.3 528,278.2 528.5,278.1 529,277.9 529.5,277.7 530,277.6 530.5,277.4 531,277.2 531.5,277.1 532,277 532.5,276.9 533,276.8 533.5,276.7 534,277.2 534.5,277.8 535,278.4 535.5,279 536,280.6 536.5,282.9 537,285.3 537.5,288.8 538,293.2 538.5,297.6 539,306 539.5,316.6 540,327.1 540.5,339 541,349.9 541.5,355.1 542,360.3 542.5,365.5 543,369.1 543.5,372.4 544,375.7 544.5,378.8 545,381.4 545.5,384 546,386.7 546.5,388 547,388.4 547.5,388.7 548,388.6 548.5,388.4 549,387.9 549.5,388.2 550,388.4 550.5,388.9 551,389.5 551.5,390.3 552,391.2 552.5,392 553,391.5 553.5,389.5 554,386.8 554.5,384.9 555,377.4 555.5,368.8 556,360.1 556.5,354.7 557,353.7 557.5,353.8 558,352.9 558.5,353.7 559,353.9 559.5,354.1 560,354.3 560.5,354.8 561,355.3 561.5,355.5 562,356.8 562.5,358.2 563,360.3 563.5,362 564,363.8 564.5,365.3 565,366.7 565.5,368.2 566,369.5 566.5,370.8 567,371.8 567.5,372.7 568,373.6 568.5,374.9 569,376.1 569.5,377.3 570,378.6 570.5,380.1 571,381.7 571.5,383.4 572,384.5 572.5,384.7 573,385.2 573.5,385.4 574,385.8 574.5,386.1 575,386.4 575.5,386.6 576,386.5 576.5,386.5 577,386.4 577.5,386.7 578,387.2 578.5,387.8 579,388.4 579.5,388.9 580,389.1 580.5,389.1 581,389 581.5,388.8 582,388.8 582.5,388.8 583,388.8 583.5,389.1 584,389.7 584.5,390.2 585,391 585.5,391.6 586,392.2 586.5,392.5 587,392.4 587.5,392.2 588,392.4 588.5,392.5 589,392.1 589.5,391.7 590,391.7 590.5,391.7 591,391.6 591.5,391.1 592,390.7 592.5,390.8 593,391 593.5,391 594,390.9 594.5,391.1 595,391.5 595.5,392 596,392.9 596.5,393.8 597,394.8 597.5,395.4 598,396.3 598.5,397.2 599,398 599.5,398.8 600,399.4 600.5,399.8 601,399.7 601.5,399.7 602,399.8 602.5,399.6 603,399.7 603.5,399.5 604,399.4 604.5,399.4 605,399.6 605.5,399.9 606,400.1 606.5,400.7 607,401.3 607.5,401.6 608,401.9 608.5,402.3 609,402.8 609.5,402.9 610,403.4 610.5,403.5 611,403.5 611.5,403.3 612,403 612.5,402.7 613,403 613.5,402.9 614,402.8 614.5,402.7 615,402.5 615.5,402.7 616,402.9 616.5,403.1 617,402.9 617.5,402.7 618,403 618.5,403.4 619,403.7 619.5,403.7 620,403.7 620.5,403.7 621,403.7 621.5,403.7 621.5,411.7 621,411.7 620.5,411.7 620,411.7 619.5,411.7 619,411.7 618.5,411.7 618,411.7 617.5,411.7 617,411.9 616.5,412.1 616,412.3 615.5,412.4 615,412.5 614.5,412.7 614,412.5 613.5,412.2 613,412 612.5,411.7 612,412 611.5,412.3 611,412.5 610.5,412.8 610,413 609.5,413.3 609,413.5 608.5,413.6 608,413.6 607.5,413.6 607,413.6 606.5,413.4 606,413.1 605.5,412.9 605,412.6 604.5,412.4 604,412.1 603.5,411.8 603,411.4 602.5,410.9 602,410.5 601.5,410 601,409.4 600.5,408.8 600,408.1 599.5,407.5 599,407 598.5,406.5 598,406 597.5,405.4 597,404.8 596.5,404.2 596,403.5 595.5,403 595,402.5 594.5,402.1 594,401.6 593.5,401.3 593,401 592.5,400.8 592,400.7 591.5,400.8 591,400.9 590.5,401 590,401.3 589.5,401.7 589,402.1 588.5,402.5 588,402.4 587.5,402.2 587,402.1 586.5,401.9 586,401.2 585.5,400.6 585,400 584.5,399.6 584,399.3 583.5,399.1 583,398.8 582.5,398.8 582,398.8 581.5,398.8 581,398.7 580.5,398.1 580,397.5 579.5,396.9 579,396.4 578.5,396.1 578,395.9 577.5,395.7 577,395.4 576.5,395.1 576,394.9 575.5,394.6 575,394.4 574.5,394.1 574,393.8 573.5,393.8 573,393.9 572.5,394 572,394.1 571.5,393 571,391.1 570.5,389.1 570,387.6 569.5,386.3 569,385.1 568.5,383.9 568,382.6 567.5,381.4 567,380.1 566.5,378.8 566,377.5 565.5,376.2 565,374.7 564.5,373.3 564,371.8 563.5,370.4 563,368.9 562.5,367.6 562,366.2 561.5,364.8 561,364.3 560.5,363.8 560,363.3 559.5,363.1 559,363.2 558.5,363.4 558,363.6 557.5,366.1 557,369.3 556.5,375 556,382.4 555.5,389.5 555,395.4 554.5,401.2 554,402.1 553.5,401.8 553,401.5 552.5,401 552,400.2 551.5,399.3 551,398.5 550.5,397.9 550,397.4 549.5,396.9 549,396.6 548.5,397.1 548,397.6 547.5,397.7 547,397.7 546.5,397.7 546,396.7 545.5,394 545,391.4 544.5,388.8 544,385.7 543.5,382.4 543,379.1 542.5,375.5 542,370.3 541.5,365.1 541,359.9 540.5,349 540,336.4 539.5,325.2 539,314 538.5,305.6 538,301.2 537.5,296.8 537,293.3 536.5,290.9 536,288.6 535.5,287 535,286.4 534.5,285.8 534,285.2 533.5,284.7 533,284.8 532.5,284.9 532,285 531.5,285.1 531,285.2 530.5,285.4 530,285.6 529.5,285.7 529,285.9 528.5,286.1 528,286.2 527.5,286.3 527,286.4 526.5,286.5 526,286.6 525.5,286.6 525,286.7 524.5,286.6 524,286.6 523.5,286.5 523,286.4 522.5,286.4 522,286.3 521.5,286.3 521,286.2 520.5,286 520,285.9 519.5,285.7 519,285.5 518.5,285.4 518,285.2 517.5,284.9 517,284.7 516.5,284.4 516,284.2 515.5,283.9 515,283.7 514.5,284 514,284.3 513.5,284.7 513,284.7 512.5,284.6 512,284.5 511.5,284.4 511,284.2 510.5,284.1 510,284 509.5,283.9 509,283.7 508.5,283.6 508,283.5 507.5,283.4 507,283.2 506.5,283.1 506,283 505.5,282.9 505,282.5 504.5,282 504,281.5 503.5,281 503,280.5 502.5,280 502,279.6 501.5,279.1 501,278.8 500.5,278.6 500,278.5 499.5,278.4 499,278.4 498.5,278.5 498,278.6 497.5,278.7 497,278.9 496.5,279.3 496,279.7 495.5,280.1 495,280.5 494.5,281 494,281.5 493.5,282 493,282.2 492.5,282 492,281.7 491.5,281.5 491,281.1 490.5,280.6 490,280.2 489.5,279.7 489,279.3 488.5,279.1 488,279 487.5,278.9 487,278.7 486.5,278.4 486,278 485.5,277.6 485,277.2 484.5,276.7 484,276.2 483.5,275.7 483,275.2 482.5,274.7 482,274.1 481.5,273.6 481,273.1 480.5,272.6 480,272.1 479.5,271.6 479,271.1 478.5,270.6 478,270.2 477.5,269.7 477,269.2 476.5,267.5 476,265.9 475.5,264.2 475,261.8 474.5,259.5 474,257.1 473.5,256.2 473,255.3 472.5,254.5 472,253.6 471.5,252.5 471,251.4 470.5,250.4 470,249.6 469.5,248.7 469,247.8 468.5,248.2 468,248.6 467.5,249 467,250.6 466.5,252.6 466,254.9 465.5,258.8 465,262.6 464.5,266.9 464,271.5 463.5,275.6 463,278 462.5,280.3 462,282.8 461.5,285.9 461,289 460.5,294 460,299 459.5,304 459,304.9 458.5,303 458,295.5 457.5,288 457,280.5 456.5,273.1 456,270.2 455.5,268.5 455,267.1 454.5,266.4 454,265.6 453.5,264.9 453,264.4 452.5,263.9 452,263.4 451.5,262.9 451,262.4 450.5,261.9 450,261.4 449.5,260.9 449,260.4 448.5,259.9 448,260.2 447.5,260.8 447,261.3 446.5,261.2 446,260.7 445.5,260.2 445,259.7 444.5,259.2 444,258.8 443.5,258.3 443,257.6 442.5,256.8 442,256.1 441.5,255.4 441,254.9 440.5,254.5 440,254 439.5,254.5 439,255 438.5,255.5 438,256.2 437.5,257 437,257.7 436.5,258.1 436,257.9 435.5,257.6 435,257.5 434.5,257.4 434,257.3 433.5,257.2 433,257.2 432.5,257.2 432,257.2 431.5,257.2 431,257.3 430.5,257.5 430,257.7 429.5,257.9 429,258.1 428.5,258.6 428,259.4 427.5,260.1 427,260.9 426.5,261.4 426,261.6 425.5,261.9 425,262.1 424.5,261.8 424,261.2 423.5,260.6 423,259.9 422.5,259.8 422,259.9 421.5,260 421,260.1 420.5,260.1 420,259.7 419.5,259.3 419,258.9 418.5,258.4 418,257.6 417.5,256.9 417,256.1 416.5,256 416,256.9 415.5,257.8 415,258.7 414.5,259.6 414,260.6 413.5,261.6 413,262.6 412.5,263 412,262.5 411.5,262 411,261.5 410.5,261.3 410,261.5 409.5,261.8 409,262 408.5,262.3 408,262.8 407.5,263.4 407,263.9 406.5,264.3 406,264.3 405.5,264.3 405,264.3 404.5,264.3 404,264.4 403.5,264.8 403,265.1 402.5,265.5 402,265.8 401.5,265.5 401,265.2 400.5,265 400,264.7 399.5,264.3 399,263.9 398.5,263.5 398,263.3 397.5,263.8 397,264.3 396.5,264.8 396,265.3 395.5,264.6 395,263.8 394.5,263.1 394,262.1 393.5,261.2 393,260.2 392.5,257.9 392,255.5 391.5,253.2 391,251.4 390.5,249.6 390,247.9 389.5,247.1 389,247.9 388.5,248.7 388,249.4 387.5,250.2 387,251 386.5,251.8 386,252 385.5,251.7 385,251.5 384.5,251.2 384,251 383.5,250.6 383,249.6 382.5,248.6 382,247.6 381.5,246.6 381,245.6 380.5,244.8 380,244.1 379.5,243.3 379,242.6 378.5,241.8 378,240.9 377.5,239.5 377,238.2 376.5,236.8 376,236.3 375.5,237.2 375,238 374.5,238.9 374,239.6 373.5,240.3 373,240.9 372.5,241.5 372,242.1 371.5,242.7 371,243.1 370.5,243.4 370,243.8 369.5,244.2 369,244.6 368.5,244.5 368,244.1 367.5,243.7 367,243.4 366.5,243 366,242.6 365.5,242 365,241.4 364.5,240.7 364,240.1 363.5,239.5 363,238.2 362.5,236.7 362,235.1 361.5,233.6 361,230.9 360.5,227.9 360,224.8 359.5,221.8 359,219.3 358.5,217 358,214.6 357.5,212.3 357,211.3 356.5,210.6 356,209.9 355.5,209.2 355,208.7 354.5,208.2 354,207.7 353.5,207.2 353,206.7 352.5,206.2 352,205.6 351.5,205.6 351,206.3 350.5,207.1 350,207.8 349.5,208.6 349,209.3 348.5,210.5 348,211.8 347.5,213 347,214.3 346.5,215.5 346,215.6 345.5,214.8 345,214.1 344.5,213.3 344,212.6 343.5,212.3 343,213.6 342.5,215 342,216.3 341.5,217.2 341,216.2 340.5,215.2 340,214.2 339.5,213.2 339,212.2 338.5,211.8 338,211.5 337.5,211.3 337,211 336.5,210.8 336,210.3 335.5,209.6 335,208.8 334.5,208.1 334,207.3 333.5,206.6 333,205.4 332.5,204.2 332,203.1 331.5,201.9 331,202.7 330.5,203.4 330,204.5 329.5,206 329,207.5 328.5,209 328,210.5 327.5,212 327,212.7 326.5,213.5 326,214.2 325.5,215 325,215.7 324.5,216.3 324,216.8 323.5,217.3 323,217.8 322.5,218.3 322,218.8 321.5,219.1 321,219.5 320.5,219.9 320,220.3 319.5,220.6 319,218.9 318.5,216.5 318,213.6 317.5,208.4 317,203.1 316.5,197.8 316,192.6 315.5,187.4 315,184.2 314.5,181.8 314,180.4 313.5,179 313,178 312.5,177.8 312,177.5 311.5,177.3 311,177 310.5,176.8 310,175.8 309.5,174.8 309,173.7 308.5,172.7 308,170.3 307.5,168 307,165.7 306.5,163.3 306,162.8 305.5,162.3 305,161.8 304.5,161.3 304,160.8 303.5,160.1 303,159.4 302.5,158.7 302,157.9 301.5,157.5 301,157.1 300.5,156.7 300,156.2 299.5,155.8 299,155.4 298.5,155 298,154.5 297.5,154 297,153.5 296.5,153 296,152.4 295.5,151.5 295,150.6 294.5,149.7 294,148.9 293.5,147.8 293,146.7 292.5,145.5 292,144.4 291.5,144.7 291,145.1 290.5,145.4 290,145.9 289.5,146.5 289,147.2 288.5,147.9 288,147.1 287.5,146.3 287,145.5 286.5,144.9 286,144.5 285.5,144.2 285,143.9 284.5,143.9 284,144 283.5,144.1 283,144.3 282.5,144.4 282,144.5 281.5,144.1 281,143.7 280.5,143.3 280,142.9 279.5,142.4 279,141.4 278.5,140.3 278,139.3 277.5,139 277,138.8 276.5,138.6 276,138.6 275.5,139.3 275,139.9 274.5,140.6 274,141.2 273.5,141.8 273,142.4 272.5,142.9 272,143.5 271.5,144 271,144.2 270.5,144.4 270,144.6 269.5,144.8 269,145 268.5,145 268,145 267.5,145 267,145 266.5,145.4 266,146.4 265.5,147.5 265,148.5 264.5,149.5 264,150.6 263.5,151.7 263,152.8 262.5,153.9 262,155 261.5,154.5 261,154.1 260.5,153.6 260,153.2 259.5,152.9 259,153 258.5,153.1 258,153.2 257.5,153.3 257,153.4 256.5,153.5 256,153.8 255.5,154.1 255,154.4 254.5,154.8 254,155.1 253.5,155.4 253,155.7 252.5,155.7 252,155.7 251.5,155.7 251,155.7 250.5,155.7 250,155.7 249.5,155.7 249,155.8 248.5,155.9 248,156 247.5,156.1 247,156.1 246.5,156.3 246,156.6 245.5,156.9 245,157.3 244.5,157.6 244,157.9 243.5,158.3 243,158.9 242.5,159.7 242,160.6 241.5,161.4 241,162.2 240.5,163.1 240,163.9 239.5,164 239,164.2 238.5,164.3 238,164.5 237.5,164.7 237,164.8 236.5,165 236,164 235.5,163 235,162 234.5,161 234,160 233.5,159 233,158.9 232.5,160.1 232,161.4 231.5,162.7 231,163.9 230.5,162.9 230,161.8 229.5,160.8 229,159.8 228.5,158.7 228,157.7 227.5,156.6 227,155.5 226.5,154.3 226,153.2 225.5,152 225,150.9 224.5,149.7 224,149.1 223.5,148.4 223,147.8 222.5,147.2 222,147.2 221.5,147.6 221,148 220.5,148.4 220,148.9 219.5,149.3 219,149.7 218.5,149.7 218,149.7 217.5,149.7 217,149.7 216.5,149.7 216,149.7 215.5,149.7 215,149.7 214.5,149.6 214,149.3 213.5,149.1 213,148.8 212.5,148.6 212,148.3 211.5,148.1 211,147.8 210.5,147.6 210,148.5 209.5,150.3 209,152 208.5,153.7 208,155 207.5,154.4 207,153.8 206.5,153.2 206,152.7 205.5,152.1 205,151.5 204.5,150.9 204,150.3 203.5,149.9 203,149.5 202.5,149.1 202,148.8 201.5,148.4 201,148.1 200.5,147.7 200,147.3 199.5,147 199,147.2 198.5,147.6 198,148 197.5,148.3 197,148.7 196.5,149.1 196,149.5 195.5,149.8 195,150.2 194.5,150.6 194,151 193.5,151.4 193,151.7 192.5,152.1 192,152.5 191.5,152.4 191,152.2 190.5,152.1 190,152 189.5,151.8 189,151.7 188.5,151.6 188,151.6 187.5,151.6 187,151.6 186.5,151.6 186,151.6 185.5,151.6 185,151.7 184.5,151.8 184,151.9 183.5,152.1 183,152.2 182.5,152.3 182,152.5 181.5,152.2 181,151.8 180.5,151.4 180,151 179.5,150.6 179,150.2 178.5,149.7 178,148.9 177.5,148.1 177,147.3 176.5,146.5 176,148.4 175.5,150 175,151.7 174.5,150.4 174,149 173.5,147.4 173,147.5 172.5,147.4 172,147.6 171.5,147.8 171,148.3 170.5,148.8 170,149.2 169.5,149.5 169,149.8 168.5,150.1 168,150.4 167.5,150.4 167,150.7 166.5,150.7 166,150.9 165.5,151.1 165,151.3 164.5,151.2 164,151.1 163.5,151.3 163,151.2 162.5,151.4 162,151.5 161.5,151.7 161,151.5 160.5,151.3 160,151.2 159.5,151.3 159,151.4 158.5,151.2 158,151.4 157.5,151.4 157,151.1 156.5,151.2 156,151.2 155.5,151.3 155,151.3 154.5,151 154,151 153.5,150.7 153,150.7 152.5,150.7 152,151 151.5,151.4 151,151.7 150.5,151.7 150,150.4 149.5,149.2 149,148.3 148.5,148.7 148,149.1 147.5,149.6 147,150 146.5,150.5 146,150.9 145.5,151.4 145,151.8 144.5,152.3 144,152.7 143.5,153.2 143,153.6 142.5,154.1 142,154.5 141.5,155 141,155.4 140.5,155.9 140,156.4 139.5,156.8 139,157.3 138.5,157.7 138,158.1 137.5,158.5 137,158.9 136.5,159.1 136,158.9 135.5,158.7 135,158.5 134.5,158.2 134,157.8 133.5,157.4 133,156.9 132.5,156.4 132,156 131.5,155.5 131,155 130.5,154.5 130,154 129.5,153.6 129,153.1 128.5,152.6 128,152.1 127.5,151.6 127,151.1 126.5,150.5 126,150 125.5,149.5 125,149.1 124.5,148.6 124,148.2 123.5,147.7 123,147.3 122.5,146.9 122,146.6 121.5,146.4 121,146.2 120.5,145.9 120,145.7 119.5,145.5 119,145.8 118.5,146 118,146 117.5,146.1 117,146.1 116.5,146.1 116,146.2 115.5,146.2 115,146.2 114.5,146.3 114,146.4 113.5,146.5Z" fill="#70ff70" stroke="#70ff70" stroke-width="2.5" stroke-linejoin="round"/>
<path d="M113.5,149 114,148.7 114.5,148.3 115,147.6 115.5,146.9 116,146.3 116.5,145.6 117,144.9 117.5,144.2 118,143.8 118.5,144 119,144.3 119.5,144.5 120,145 120.5,145.5 121,145.9 121.5,146.4 122,146.9 122.5,147.3 123,147.7 123.5,148 124,148.4 124.5,148.9 125,149.6 125.5,150.4 126,151.1 126.5,151.9 127,152.4 127.5,152.8 128,153.2 128.5,153.6 129,153.9 129.5,154.5 130,155.1 130.5,155.8 131,156.4 131.5,157 132,157.6 132.5,158.1 133,158.7 133.5,159.3 134,159.6 134.5,159.7 135,159.8 135.5,159.9 136,159.4 136.5,158.9 137,158.4 137.5,157.8 138,157.2 138.5,156.5 139,155.9 139.5,155.2 140,154.6 140.5,154 141,153.4 141.5,152.8 142,152.2 142.5,151.4 143,150.6 143.5,149.8 144,149 144.5,148.4 145,147.7 145.5,147.1 146,146.5 146.5,145.8 147,145.2 147.5,141.5 148,138.2 148.5,135.2 149,134.8 149.5,134.5 150,134.3 150.5,134 151,133.7 151.5,133.5 152,133.2 152.5,132.9 153,132.7 153.5,132.5 154,132.2 154.5,132 155,131.8 155.5,131.7 156,131.5 156.5,131.3 157,131.1 157.5,130.1 158,130.9 158.5,131.6 159,132.3 159.5,133.1 160,134.6 160.5,134.9 161,135.6 161.5,136.4 162,137.2 162.5,138 163,138.2 163.5,137.9 164,137 164.5,136.1 165,135.2 165.5,134.3 166,133.4 166.5,132.5 167,131.6 167.5,130.8 168,130.1 168.5,129.9 169,130 169.5,130.1 170,130 170.5,130.1 171,130.3 171.5,130.4 172,130.5 172.5,130.6 173,131 173.5,131.3 174,132.6 174.5,133.6 175,134.3 175.5,136.3 176,138.6 176.5,141.2 177,143.2 177.5,145.2 178,147.1 178.5,149.1 179,151.1 179.5,153 180,155 180.5,156.2 181,156.4 181.5,156.5 182,156.6 182.5,156.7 183,156.9 183.5,157 184,156.7 184.5,156.4 185,156.1 185.5,155.8 186,155.5 186.5,154.9 187,154.2 187.5,153.6 188,152.9 188.5,152.3 189,152.2 189.5,152.5 190,152.9 190.5,153.2 191,153.6 191.5,153 192,151.8 192.5,150.6 193,149.5 193.5,148.3 194,147.4 194.5,146.7 195,146 195.5,145.4 196,144.7 196.5,144.3 197,144.2 197.5,144.1 198,143.9 198.5,143.8 199,143.7 199.5,142 200,140.2 200.5,138.5 201,138.4 201.5,138.2 202,138.1 202.5,138 203,137.9 203.5,137.9 204,137.7 204.5,137.5 205,137.3 205.5,137 206,136.6 206.5,136.3 207,135.9 207.5,135.5 208,134.8 208.5,134.7 209,134.7 209.5,134.8 210,135.1 210.5,135.5 211,136.1 211.5,136.5 212,136.9 212.5,137.3 213,137.8 213.5,138.6 214,138.6 214.5,138.7 215,138.7 215.5,138.8 216,138.8 216.5,138.9 217,138.9 217.5,139 218,139.1 218.5,139.1 219,138.9 219.5,138.4 220,137.7 220.5,136.9 221,136.3 221.5,135.5 222,134.6 222.5,133.8 223,133 223.5,132.3 224,131.6 224.5,131.1 225,130.8 225.5,130.5 226,130.1 226.5,129.8 227,129.4 227.5,128.7 228,128.8 228.5,130.1 229,131.3 229.5,132.1 230,134.2 230.5,135.6 231,137.3 231.5,138.3 232,140.5 232.5,141.2 233,143 233.5,144.1 234,144.6 234.5,147.3 235,150.6 235.5,153.8 236,158.2 236.5,162.7 237,167.1 237.5,167.4 238,167.7 238.5,168.1 239,167.6 239.5,166.6 240,165.6 240.5,164.6 241,163.7 241.5,163.2 242,162.6 242.5,162.1 243,161.6 243.5,161.9 244,162.3 244.5,162.6 245,163 245.5,163.3 246,162.9 246.5,162.4 247,162 247.5,161.6 248,161.1 248.5,160.7 249,160.1 249.5,159.5 250,158.8 250.5,158.2 251,157.5 251.5,156.9 252,156.2 252.5,155.9 253,155.7 253.5,155.4 254,155.2 254.5,154.9 255,154.7 255.5,154.3 256,153.9 256.5,153.5 257,153.1 257.5,152.7 258,152.3 258.5,151.9 259,151.1 259.5,150.3 260,149.4 260.5,148.5 261,147.7 261.5,146.8 262,145.4 262.5,144.7 263,143.9 263.5,143.2 264,142.5 264.5,141.7 265,140.6 265.5,139.6 266,138.6 266.5,137.5 267,137.1 267.5,137.1 268,137.1 268.5,137.1 269,138 269.5,138.9 270,139.7 270.5,139.9 271,139.7 271.5,139.5 272,139.2 272.5,139 273,138.5 273.5,138 274,137.5 274.5,137 275,136.5 275.5,135.8 276,135.1 276.5,134.5 277,135 277.5,136.3 278,137.6 278.5,138.9 279,140.8 279.5,142.6 280,143 280.5,143 281,142.5 281.5,141.2 282,139.9 282.5,138.6 283,137 283.5,135.4 284,133.7 284.5,132.3 285,131.8 285.5,131.3 286,132.5 286.5,133.7 287,135.1 287.5,136.6 288,138 288.5,139.5 289,139.3 289.5,139.1 290,139 290.5,139.1 291,139.3 291.5,139.8 292,141.2 292.5,142.7 293,144 293.5,145.3 294,146.7 294.5,148 295,149.4 295.5,150.7 296,152.1 296.5,153.6 297,155.1 297.5,156.5 298,158 298.5,159.3 299,160.1 299.5,159.3 300,158.6 300.5,157.8 301,158.6 301.5,159.9 302,161.4 302.5,162.9 303,164.4 303.5,165.9 304,166.8 304.5,166.8 305,166.8 305.5,166.8 306,166.8 306.5,166.8 307,168.8 307.5,170.8 308,172.8 308.5,174.8 309,175.5 309.5,176.2 310,176.8 310.5,177.5 311,177.5 311.5,177.5 312,177.5 312.5,177.5 313,177.5 313.5,179.8 314,183.7 314.5,187.5 315,191.4 315.5,195.2 316,199.6 316.5,204.2 317,208.9 317.5,213.7 318,218.5 318.5,220 319,220.7 319.5,221.3 320,222 320.5,221.3 321,220.3 321.5,219.3 322,218.3 322.5,217.9 323,217.7 323.5,217.4 324,217.2 324.5,216.9 325,216.4 325.5,215.4 326,214.3 326.5,213.3 327,212.2 327.5,210.8 328,209.5 328.5,208.1 329,206.7 329.5,205 330,203.3 330.5,201.2 331,199.6 331.5,199.1 332,198.6 332.5,199.6 333,201.6 333.5,203.7 334,205.6 334.5,207 335,207.8 335.5,208.6 336,209.2 336.5,209.7 337,210.1 337.5,210.3 338,210.6 338.5,211.1 339,211.8 339.5,212.6 340,214.1 340.5,215.8 341,217.5 341.5,219.2 342,217.9 342.5,215.9 343,213.8 343.5,211.8 344,212.4 344.5,213.6 345,214.9 345.5,216.1 346,217.4 346.5,217.5 347,216 347.5,214.5 348,213 348.5,211.5 349,210 349.5,208.5 350,207.2 350.5,206.2 351,205.3 351.5,204.4 352,204.5 352.5,205.2 353,205.7 353.5,206.2 354,206.7 354.5,207.2 355,207.7 355.5,208.3 356,208.9 356.5,209.6 357,210.2 357.5,212.5 358,214.9 358.5,217.7 359,222.3 359.5,226.6 360,229.5 360.5,232.4 361,234.4 361.5,235 362,235.7 362.5,236.4 363,237.4 363.5,238.3 364,239.1 364.5,239.7 365,240.4 365.5,241 366,242 366.5,243.2 367,244.3 367.5,245.5 368,245.3 368.5,245.2 369,245 369.5,244.8 370,244.3 370.5,243.8 371,243.3 371.5,242.8 372,242.3 372.5,241.7 373,240.9 373.5,240.2 374,239.4 374.5,238.7 375,238.3 375.5,239.3 376,240.3 376.5,241.3 377,242.4 377.5,244.1 378,245.8 378.5,247.5 379,248.9 379.5,248.9 380,248.9 380.5,248.9 381,248.9 381.5,248.9 382,249.7 382.5,250.7 383,251.6 383.5,252.6 384,253.6 384.5,253.8 385,252.8 385.5,251.9 386,251.2 386.5,250.6 387,249.8 387.5,249.2 388,248.5 388.5,247.7 389,247 389.5,246.4 390,247.2 390.5,248.9 391,250.6 391.5,252.2 392,254.9 392.5,258.3 393,260 393.5,261.6 394,263.3 394.5,263.8 395,264.3 395.5,264.8 396,265.3 396.5,264.6 397,263.9 397.5,263.2 398,262.5 398.5,262.6 399,262.9 399.5,263.3 400,263.7 400.5,264 401,264.2 401.5,264.5 402,264.5 402.5,264.4 403,264.1 403.5,263.8 404,263.6 404.5,263.4 405,263.3 405.5,263.3 406,263.4 406.5,263.2 407,262.8 407.5,262.4 408,261.8 408.5,261.4 409,261 409.5,260.6 410,259.9 410.5,260 411,260.6 411.5,261 412,261.5 412.5,262 413,262.8 413.5,263.8 414,263.7 414.5,262.7 415,261.7 415.5,260.7 416,260.3 416.5,260.3 417,260.3 417.5,260.3 418,260.5 418.5,260.9 419,261.3 419.5,261.7 420,261.7 420.5,261.6 421,261.5 421.5,261.4 422,261.1 422.5,260.6 423,260.1 423.5,259.9 424,260.4 424.5,260.8 425,261.1 425.5,261.2 426,261 426.5,260.7 427,260.5 427.5,260.1 428,259.4 428.5,258.8 429,258.2 429.5,257.8 430,257.6 430.5,257.5 431,257.4 431.5,257.3 432,257.3 432.5,257.3 433,257.3 433.5,257.2 434,257 434.5,256.7 435,256.6 435.5,256.7 436,256.9 436.5,257 437,256.7 437.5,256 438,255.2 438.5,254.4 439,254 439.5,253.6 440,253.3 440.5,253.7 441,254.2 441.5,254.7 442,255.2 442.5,255.8 443,256.5 443.5,257.1 444,257.8 444.5,258.2 445,258.8 445.5,259.2 446,259.7 446.5,260.2 447,260.6 447.5,260.9 448,261.3 448.5,261.6 449,261.3 449.5,261.1 450,260.8 450.5,261.6 451,262.5 451.5,263.5 452,264.3 452.5,264.8 453,265.3 453.5,265.8 454,266.3 454.5,266.8 455,279.2 455.5,291.3 456,304.1 456.5,308.4 457,316.7 457.5,301.2 458,304.6 458.5,304.8 459,306 459.5,305.4 460,305.1 460.5,299.8 461,316.4 461.5,309 462,301.7 462.5,294.4 463,282.8 463.5,270.8 464,269.1 464.5,267.3 465,264.8 465.5,262.4 466,259.9 466.5,257.6 467,255.4 467.5,253.2 468,251 468.5,250 469,248.9 469.5,247.9 470,248.2 470.5,248.9 471,249.6 471.5,250.3 472,251 472.5,252.5 473,254.1 473.5,255.6 474,257.6 474.5,259.7 475,261.7 475.5,263 476,264.4 476.5,265.7 477,266.4 477.5,267.2 478,267.9 478.5,268.7 479,269.4 479.5,270.1 480,270.9 480.5,271.6 481,272.3 481.5,272.9 482,273.5 482.5,274.2 483,274.6 483.5,275 484,275.4 484.5,275.7 485,276.1 485.5,276.5 486,276.9 486.5,277.2 487,277.5 487.5,277.8 488,278 488.5,278.2 489,278.6 489.5,279 490,279.4 490.5,279.7 491,280.1 491.5,280.5 492,280.9 492.5,281.2 493,281.2 493.5,280.8 494,280.4 494.5,280 495,279.6 495.5,279.2 496,278.8 496.5,278.4 497,278.2 497.5,278.1 498,278 498.5,277.9 499,277.9 499.5,278 500,278.1 500.5,278.2 501,278.7 501.5,279.3 502,279.9 502.5,280.6 503,281.2 503.5,281.8 504,282.4 504.5,283 505,283.5 505.5,283.8 506,284 506.5,284.2 507,284.4 507.5,284.6 508,284.7 508.5,284.8 509,284.9 509.5,284.9 510,284.9 510.5,284.9 511,285 511.5,285.2 512,285.5 512.5,285.8 513,285.8 513.5,285.5 514,285.3 514.5,285 515,284.8 515.5,284.7 516,284.5 516.5,284.4 517,284.2 517.5,284.7 518,285.2 518.5,285.7 519,286.2 519.5,286.3 520,286.4 520.5,286.4 521,286.5 521.5,286.6 522,286.7 522.5,286.7 523,286.7 523.5,286.7 524,286.7 524.5,286.7 525,286.7 525.5,286.7 526,286.7 526.5,286.7 527,286.7 527.5,286.7 528,286.7 528.5,286.5 529,286.2 529.5,286 530,285.8 530.5,285.4 531,285 531.5,284.6 532,284.3 532.5,284.4 533,284.6 533.5,284.9 534,285.1 534.5,286.1 535,287.7 535.5,289.2 536,292.2 536.5,296.2 537,300.8 537.5,305.9 538,315.2 538.5,325.7 539,335.8 539.5,348.2 540,354.8 540.5,358.2 541,361.6 541.5,366.5 542,371 542.5,375.5 543,380 543.5,384.1 544,388.1 544.5,392 545,395.9 545.5,398.9 546,401.8 546.5,402.6 547,401.9 547.5,401.2 548,400.4 548.5,399.5 549,398.5 549.5,399.1 550,400.1 550.5,401 551,401.9 551.5,402.6 552,403.4 552.5,404.1 553,404.5 553.5,404.8 554,405.1 554.5,404.6 555,400.6 555.5,396.7 556,390 556.5,382.7 557,376 557.5,370.1 558,365.2 558.5,364 559,363 559.5,362.1 560,362.2 560.5,362.8 561,363.3 561.5,363.8 562,365.2 562.5,366.6 563,368 563.5,369.4 564,370.8 564.5,372.3 565,373.7 565.5,375.1 566,376.5 566.5,377.8 567,379.1 567.5,380.4 568,381.6 568.5,382.9 569,384.1 569.5,385.3 570,386.7 570.5,388.3 571,390.1 571.5,391.9 572,393 572.5,393 573,392.9 573.5,392.8 574,392.8 574.5,393.1 575,393.3 575.5,393.6 576,393.9 576.5,394.1 577,394.4 577.5,394.6 578,394.9 578.5,395.1 579,395.5 579.5,395.9 580,396.5 580.5,397.1 581,397.6 581.5,397.8 582,397.8 582.5,397.8 583,397.8 583.5,398.1 584,398.3 584.5,398.6 585,399 585.5,399.6 586,400.2 586.5,400.8 587,401.1 587.5,401.2 588,401.4 588.5,401.4 589,401.1 589.5,400.7 590,400.4 590.5,400.1 591,399.9 591.5,399.8 592,399.7 592.5,399.8 593,400 593.5,400.3 594,400.5 594.5,401.1 595,401.5 595.5,402 596,402.5 596.5,403.2 597,403.8 597.5,404.5 598,405 598.5,405.5 599,406 599.5,406.6 600,407.1 600.5,407.8 601,408.4 601.5,409 602,409.5 602.5,409.9 603,410.4 603.5,410.8 604,411.1 604.5,411.4 605,411.7 605.5,411.9 606,412.1 606.5,412.4 607,412.6 607.5,412.6 608,412.6 608.5,412.6 609,412.5 609.5,412.3 610,412 610.5,411.8 611,411.6 611.5,411.3 612,411 612.5,410.6 613,411 613.5,411.2 614,411.5 614.5,411.7 615,411.5 615.5,411.4 616,411.2 616.5,411.1 617,410.9 617.5,410.8 618,410.7 618.5,410.7 619,410.7 619.5,410.7 620,410.7 620.5,410.7 621,410.7 621.5,410.7 621.5,422.1 621,422.1 620.5,422.1 620,422.1 619.5,422.1 619,422.1 618.5,422.1 618,422.1 617.5,422.1 617,422.1 616.5,422.1 616,422.1 615.5,422.3 615,422.4 614.5,422.5 614,422.2 613.5,421.8 613,421.8 612.5,421.4 612,421.8 611.5,421.9 611,422.3 610.5,422.6 610,422.7 609.5,422.8 609,422.9 608.5,423 608,423 607.5,423 607,423 606.5,422.8 606,422.5 605.5,422.3 605,422 604.5,421.6 604,421.2 603.5,420.9 603,420.5 602.5,420.1 602,419.7 601.5,419.4 601,418.9 600.5,418.3 600,417.8 599.5,417.3 599,416.7 598.5,416.1 598,415.5 597.5,414.8 597,414 596.5,413.2 596,412.5 595.5,411.8 595,411.2 594.5,410.6 594,410 593.5,409.9 593,409.8 592.5,409.7 592,409.7 591.5,409.9 591,410.2 590.5,410.4 590,410.6 589.5,410.7 589,410.9 588.5,411 588,410.9 587.5,410.7 587,410.6 586.5,410.4 586,409.9 585.5,409.4 585,408.9 584.5,408.5 584,408.1 583.5,407.7 583,407.4 582.5,407.4 582,407.5 581.5,407.6 581,407.7 580.5,407.4 580,407.2 579.5,406.9 579,406.6 578.5,406.1 578,405.6 577.5,405.1 577,404.8 576.5,404.5 576,404.3 575.5,404 575,403.6 574.5,403.2 574,402.8 573.5,402.6 573,402.6 572.5,402.6 572,402.6 571.5,402.1 571,401.1 570.5,400.4 570,399.3 569.5,398.2 569,396.7 568.5,395.6 568,394.5 567.5,393.5 567,392.2 566.5,390.6 566,389 565.5,387.4 565,386.1 564.5,384.9 564,383.7 563.5,382.4 563,381.1 562.5,379.8 562,378.4 561.5,377 561,376.2 560.5,375.3 560,374.5 559.5,374.7 559,375.5 558.5,376.3 558,377.2 557.5,382.1 557,388 556.5,394.7 556,402 555.5,409.4 555,413.3 554.5,417.3 554,417.1 553.5,416.8 553,416.5 552.5,416.1 552,415.4 551.5,414.6 551,413.9 550.5,413 550,412.1 549.5,411.1 549,410.5 548.5,411.5 548,412.4 547.5,413.5 547,414.2 546.5,414.9 546,414.8 545.5,413.5 545,412.2 544.5,409 544,405.1 543.5,401.1 543,396.3 542.5,390.5 542,384.3 541.5,378.8 541,373.6 540.5,368.7 540,363.8 539.5,356.4 539,345.6 538.5,338.6 538,331.4 537.5,323.7 537,318.3 536.5,311.7 536,305 535.5,299.4 535,295.8 534.5,293.6 534,292.6 533.5,292.4 533,292.1 532.5,291.9 532,291.8 531.5,292.1 531,292.5 530.5,292.9 530,293.2 529.5,293.5 529,293.8 528.5,294 528,294.2 527.5,294.2 527,294.2 526.5,294.2 526,294.2 525.5,294.2 525,294.2 524.5,294.2 524,294.2 523.5,294.2 523,294.2 522.5,294.2 522,294.2 521.5,294.1 521,294 520.5,293.9 520,293.9 519.5,293.8 519,293.7 518.5,293.2 518,292.7 517.5,292.2 517,291.7 516.5,291.9 516,292 515.5,292.2 515,292.3 514.5,292.5 514,292.8 513.5,293 513,293.3 512.5,293.2 512,293 511.5,292.8 511,292.5 510.5,292.4 510,292.4 509.5,292.4 509,292.4 508.5,292.3 508,292.2 507.5,292.1 507,291.9 506.5,291.8 506,291.5 505.5,291.2 505,291 504.5,290.5 504,289.9 503.5,289.3 503,288.7 502.5,288.1 502,287.4 501.5,286.8 501,286.2 500.5,285.8 500,285.6 499.5,285.5 499,285.4 498.5,285.4 498,285.5 497.5,285.6 497,285.7 496.5,285.9 496,286.3 495.5,286.7 495,287.1 494.5,287.5 494,287.9 493.5,288.3 493,288.7 492.5,288.7 492,288.4 491.5,288 491,287.6 490.5,287.2 490,286.9 489.5,286.5 489,286.1 488.5,285.8 488,285.5 487.5,285.2 487,285 486.5,284.7 486,284.4 485.5,284 485,283.6 484.5,283.2 484,282.9 483.5,282.5 483,282.1 482.5,281.7 482,281 481.5,280.4 481,279.8 480.5,279.1 480,278.4 479.5,277.6 479,276.9 478.5,276.2 478,275.4 477.5,274.7 477,273.9 476.5,273.2 476,271.9 475.5,270.5 475,269.2 474.5,267.2 474,265.1 473.5,263.1 473,261.6 472.5,260 472,258.5 471.5,257.8 471,257.1 470.5,256.4 470,255.7 469.5,255.4 469,256.4 468.5,257.5 468,258.5 467.5,260.7 467,262.9 466.5,265.1 466,267.4 465.5,269.9 465,272.3 464.5,274.8 464,276.6 463.5,278.3 463,286.3 462.5,298.5 462,310.6 461.5,327 461,338.9 460.5,322.7 460,328 459.5,327.8 459,327.4 458.5,325 458,323 457.5,316.7 457,328.3 456.5,314 456,301.4 455.5,290.6 455,284 454.5,280.5 454,279.6 453.5,278.5 453,277.6 452.5,276.8 452,276.3 451.5,275.5 451,274.5 450.5,273.6 450,272.8 449.5,273.1 449,273.3 448.5,273.6 448,273.3 447.5,272.9 447,272.5 446.5,272 446,271.4 445.5,270.8 445,270.1 444.5,269.4 444,268.6 443.5,267.9 443,267.5 442.5,267.3 442,267 441.5,266.7 441,266.2 440.5,265.7 440,265.2 439.5,265.2 439,265.2 438.5,265.2 438,265.8 437.5,266.5 437,267.3 436.5,267.8 436,268 435.5,268.3 435,268.5 434.5,268.7 434,269 433.5,269.2 433,269.3 432.5,269.3 432,269.3 431.5,269.3 431,269.4 430.5,269.5 430,269.6 429.5,269.8 429,270.2 428.5,270.8 428,271.4 427.5,272.1 427,272.5 426.5,272.7 426,273 425.5,273.2 425,273.1 424.5,272.7 424,272.3 423.5,271.9 423,272.1 422.5,272.6 422,273.1 421.5,273.4 421,273.5 420.5,273.6 420,273.7 419.5,273.7 419,273.3 418.5,272.9 418,272.5 417.5,272.3 417,272.6 416.5,273 416,273.3 415.5,273.4 415,274 414.5,274.7 414,275.7 413.5,275.8 413,274.6 412.5,273.6 412,272.7 411.5,271.8 411,270.8 410.5,269.4 410,268.5 409.5,268.5 409,268.7 408.5,269.3 408,269.9 407.5,270.6 407,271.2 406.5,271.8 406,272.4 405.5,272.8 405,273.1 404.5,273.5 404,273.8 403.5,273.6 403,273.5 402.5,273.4 402,273.3 401.5,273.5 401,273.6 400.5,273.7 400,273.8 399.5,274 399,274.1 398.5,274.2 398,274.4 397.5,275.2 397,275.9 396.5,276.6 396,277.3 395.5,276.8 395,276.3 394.5,275.8 394,275.3 393.5,274 393,273 392.5,273 392,270.9 391.5,268.6 391,265.9 390.5,262.9 390,260.5 389.5,259.1 389,259.2 388.5,259.4 388,259.9 387.5,260.4 387,260.9 386.5,261.9 386,262.9 385.5,263.8 385,264.8 384.5,265.8 384,265.6 383.5,264.6 383,263.6 382.5,262.7 382,261.7 381.5,260.9 381,260.9 380.5,260.9 380,260.9 379.5,260.9 379,260.9 378.5,259.5 378,257.8 377.5,256.1 377,254.4 376.5,253.3 376,252.3 375.5,251.3 375,250.3 374.5,250.7 374,251.4 373.5,252.2 373,252.9 372.5,253.7 372,254.3 371.5,254.8 371,255.3 370.5,255.8 370,256.3 369.5,256.8 369,257 368.5,257.1 368,257.3 367.5,257.5 367,256.3 366.5,255.2 366,254 365.5,252.8 365,252.4 364.5,252 364,251.2 363.5,250.2 363,249.1 362.5,248.4 362,247.7 361.5,247 361,246.4 360.5,244.4 360,241.8 359.5,240.2 359,238 358.5,235.1 358,232.9 357.5,230.4 357,227.3 356.5,225.2 356,223.1 355.5,221.7 355,220.9 354.5,220.2 354,219.4 353.5,218.7 353,218.3 352.5,218.2 352,218.1 351.5,218.3 351,219.1 350.5,219.2 350,219.7 349.5,220.5 349,222 348.5,223.5 348,225 347.5,226.5 347,228 346.5,229.5 346,229.4 345.5,228.1 345,226.9 344.5,225.6 344,225.1 343.5,224.8 343,226.8 342.5,228.2 342,229.9 341.5,231.8 341,230.8 340.5,229.8 340,228.1 339.5,226.2 339,225.1 338.5,223.7 338,222.7 337.5,221.6 337,220.8 336.5,219.7 336,218.5 335.5,217.2 335,216 334.5,214.7 334,213.2 333.5,211.2 333,209.1 332.5,207.1 332,206.4 331.5,207.6 331,208.8 330.5,210.6 330,212.6 329.5,214.6 329,216.9 328.5,219 328,220.7 327.5,222.4 327,224 326.5,225.3 326,226.3 325.5,227.4 325,228.4 324.5,228.9 324,229.2 323.5,229.4 323,229.7 322.5,229.9 322,230.3 321.5,231.3 321,232.3 320.5,233.3 320,234 319.5,233.3 319,232.7 318.5,232 318,231.5 317.5,229 317,225.9 316.5,220.8 316,214 315.5,207.9 315,203.4 314.5,199.5 314,195.7 313.5,191.8 313,189.5 312.5,189.5 312,189.5 311.5,189.5 311,189.5 310.5,189.5 310,188.8 309.5,188.2 309,187.5 308.5,186.8 308,184.8 307.5,182.8 307,180.8 306.5,178.8 306,178.8 305.5,178.8 305,178.8 304.5,178.8 304,178.8 303.5,177.9 303,176.4 302.5,174.9 302,173.4 301.5,171.9 301,170.6 300.5,169.8 300,168.7 299.5,167.7 299,166.6 298.5,165.8 298,164.5 297.5,163 297,161.6 296.5,160.1 296,158.6 295.5,157.2 295,155.9 294.5,154.8 294,154.2 293.5,153.8 293,153.5 292.5,153.2 292,152.8 291.5,151.6 291,151.5 290.5,150.9 290,150.8 289.5,150.6 289,150.5 288.5,151 288,150.2 287.5,150.1 287,149.6 286.5,149.2 286,149 285.5,148.1 285,148.3 284.5,147.8 284,147.9 283.5,147.9 283,147.5 282.5,147.4 282,147.4 281.5,148 281,149 280.5,149.5 280,149.5 279.5,149.5 279,148.6 278.5,148.1 278,148.1 277.5,147.8 277,147.2 276.5,146.6 276,146.6 275.5,146.3 275,146.3 274.5,146.2 274,146.3 273.5,146.2 273,146.3 272.5,146.5 272,146.7 271.5,147 271,147.2 270.5,147.4 270,147.6 269.5,147.4 269,147.5 268.5,147.3 268,147.6 267.5,147.6 267,147.6 266.5,147.7 266,148.1 265.5,148.1 265,148.5 264.5,149.2 264,150 263.5,150.7 263,151.4 262.5,152.2 262,152.9 261.5,154.3 261,154.8 260.5,155.4 260,155.9 259.5,156.8 259,157.6 258.5,158.4 258,158.8 257.5,159.2 257,159.6 256.5,160 256,160.4 255.5,160.8 255,161.2 254.5,161.4 254,161.7 253.5,161.9 253,162.2 252.5,162.8 252,163 251.5,163.7 251,164 250.5,164.7 250,165.3 249.5,166 249,166.6 248.5,167.2 248,167.6 247.5,168.1 247,168.5 246.5,168.9 246,169.4 245.5,169.8 245,169.5 244.5,169.1 244,169.1 243.5,169.4 243,169.8 242.5,170.6 242,171.1 241.5,171.7 241,172.2 240.5,172.8 240,173.4 239.5,173.8 239,174.4 238.5,174.9 238,174.6 237.5,174.3 237,173.6 236.5,169.2 236,164.7 235.5,160.3 235,159 234.5,158.5 234,159.8 233.5,162.3 233,163.6 232.5,163.1 232,162 231.5,158.5 231,155 230.5,150.6 230,146.1 229.5,141.7 229,139.4 228.5,137.8 228,136.1 227.5,135.9 227,136.7 226.5,137.5 226,138.3 225.5,139.2 225,140 224.5,140.8 224,141.8 223.5,142.8 223,143.8 222.5,144.8 222,145.8 221.5,146.8 221,147.4 220.5,147.4 220,147.4 219.5,147.4 219,147.4 218.5,147.4 218,147.4 217.5,147.4 217,147.4 216.5,147.6 216,148 215.5,148.3 215,148.6 214.5,149 214,149.3 213.5,149.4 213,148.3 212.5,147.2 212,146.2 211.5,145.1 211,144 210.5,142.9 210,142.3 209.5,142.1 209,141.8 208.5,141.6 208,141.6 207.5,142.4 207,143.2 206.5,144 206,144.8 205.5,145.6 205,146.4 204.5,147.2 204,148 203.5,148.6 203,148.8 202.5,148.9 202,149.1 201.5,149.3 201,149.5 200.5,149.7 200,151.9 199.5,154.1 199,156.2 198.5,156.3 198,156.4 197.5,156.6 197,156.7 196.5,156.5 196,156.5 195.5,156.5 195,156.9 194.5,156.9 194,157.2 193.5,157.4 193,158 192.5,158.1 192,158.6 191.5,159.5 191,160.1 190.5,159.7 190,159.7 189.5,159.7 189,160 188.5,160.4 188,161.1 187.5,161.4 187,161.4 186.5,161.7 186,162 185.5,162.3 185,162.6 184.5,162.9 184,163.2 183.5,163.5 183,163.4 182.5,163.2 182,163.1 181.5,163 181,162.9 180.5,162.7 180,161.5 179.5,160.2 179,159.2 178.5,158.9 178,158 177.5,157 177,155.7 176.5,154.7 176,150.7 175.5,146.4 175,142.1 174.5,140.9 174,139.8 173.5,138.7 173,138.7 172.5,138.7 172,138.7 171.5,138.7 171,138.7 170.5,138.7 170,139.1 169.5,140 169,140.9 168.5,141.8 168,142.7 167.5,143.5 167,144.2 166.5,144.9 166,145.5 165.5,146.2 165,146.8 164.5,147.3 164,147.8 163.5,148.4 163,148.9 162.5,149.4 162,149.7 161.5,150 161,150.3 160.5,150.6 160,150.5 159.5,148.3 159,146 158.5,143.8 158,141.3 157.5,139.3 157,139.8 156.5,140.3 156,140.8 155.5,141.3 155,141.8 154.5,142.3 154,142.8 153.5,143.3 153,143.5 152.5,143.6 152,143.8 151.5,143.9 151,144 150.5,144.4 150,147.2 149.5,149.7 149,152.4 148.5,152.7 148,153 147.5,153.4 147,154 146.5,154.3 146,155 145.5,155.9 145,156.9 144.5,157.9 144,158.5 143.5,159 143,159.4 142.5,159.9 142,161 141.5,162 141,162.9 140.5,163.5 140,164.1 139.5,164.7 139,165.4 138.5,166.4 138,167 137.5,167.3 137,167.2 136.5,167.1 136,167.2 135.5,167.4 135,167.3 134.5,167.2 134,167.5 133.5,167.4 133,167.2 132.5,166.6 132,166.1 131.5,165.5 131,164.9 130.5,164.6 130,164.3 129.5,164 129,163.1 128.5,162.4 128,161.7 127.5,161.3 127,160.9 126.5,160.7 126,160.3 125.5,159.9 125,159.4 124.5,159 124,158.9 123.5,158.5 123,158.2 122.5,157.8 122,157.4 121.5,156.9 121,156.4 120.5,156 120,155.5 119.5,154.7 119,154.1 118.5,153.5 118,153.3 117.5,153.4 117,153.7 116.5,153.7 116,154.1 115.5,154.1 115,154.4 114.5,154.8 114,155.2 113.5,155.5Z" fill="#ff7070" stroke="#ff7070" stroke-width="2.5" stroke-linejoin="round"/>
<path d="M113.5,142 115.2,141.8 118.5,141.5 119.6,143.8 122.6,145.9 125.5,148.8 128.5,152.1 131.4,154.7 134.4,157.6 136.7,158.5 139.1,156.5 142,154.1 144.8,152.2 148.5,149.6 150,149.5 155,148.6 160.1,147.8 165.1,146.5 171,145.7 174.4,146.5 176.9,148.6 180.3,151.1 183.6,152 187.8,152 192,151.1 196.2,150.5 201.5,150.5 205.9,149.9 211.4,149.9 216.8,151 221.2,152.7 224.5,156.5 226.7,160.9 230,166.3 233.2,171.2 235.4,170.7 238.7,165.2 242,160.9 243.3,160.9 246.6,158.7 249.8,155.9 253.1,154.8 256.4,153.2 259.7,149.9 262.9,147.2 265.5,145.5 268.5,143.8 272.3,141.5 276.1,139.1 278.7,140 281.4,139.1 282.6,138.5 285.5,140.8 289.1,140.8 291.4,139.6 293.2,137.3 295.5,137.9 297.3,140.8 299.6,139.6 302,139.1 303.8,139.5 306.5,142.2 308.5,146.9 310.5,151.6 313.2,152.9 315.2,155 316.6,163 317.9,173.8 319.3,183.2 320.6,193 322.1,194.9 324.1,193.5 326.1,198.9 328.1,194.9 330.2,191.5 332.2,194.9 334.2,192.8 336.9,196.9 339.6,198.9 342.3,196.9 344.9,195.5 347.6,194.9 350.3,194.5 352.5,195.2 353.7,200.9 355.5,202.5 357.4,201.4 359.4,209.5 361.4,219.6 363.4,222.3 365.5,227.6 368.1,232.3 370.8,233 372.8,231 374.9,223.6 376.9,230.3 378.9,233 381.6,236.4 384.3,241.7 386.3,241.1 389,238.4 391.7,243.8 393.7,251.8 395.7,255.9 397.1,255.7 399.1,255.2 401.1,256.2 402.6,258.2 404.6,256.2 406.6,256.7 408.6,256.2 411.2,254.2 413.2,253.2 415.2,248.1 416.7,247.6 418.7,249.7 420.7,252.7 422.8,254.2 424.8,256.7 426.3,254.2 428.3,251.2 430.3,250.2 432.3,249.7 434.9,250.6 436.7,251.8 438.4,247.6 439.6,244.7 440.9,245.9 442.6,248.4 444.2,251.4 446.3,253.9 448.4,252.6 449.7,251.8 451.4,255.2 453.5,257.7 455.6,261.1 456.8,265.3 458.1,275 459,290 459.6,293 460.4,286 461.5,279 462.7,274.5 464,264.4 465.3,255.2 466.5,247.6 467.8,243.4 469.5,243.4 471.1,245.1 472.5,247.4 473.5,249.1 475,253.1 476.5,260.2 478,263.7 480.1,265.7 482.1,268.2 484.1,269.7 486.1,272.3 488.1,273.3 490.1,274.3 492.2,276.3 494.2,274.8 496.2,272.8 498.2,271.3 500.2,270.7 502.2,272.3 504.3,275.8 506.3,277.3 508.3,278.3 510.3,278.8 512.3,279.8 515,278.8 518,279.7 521,281.2 524.1,280.7 527.1,280.7 530.1,280.2 532.6,279.2 534.7,280.2 536.2,283.2 537.2,289.2 538.2,300.3 539.2,320 542.1,342.3 543.2,360 543.2,367.6 545,377.1 546.8,387.6 548.5,387.1 550.3,387.6 552.1,390.6 553.8,393.5 555.6,379.4 556.8,364.1 557.9,358.2 559.7,357.6 561.5,359.4 563.2,364.1 565.6,370 567.9,374.7 570.3,381.8 571.8,387.9 573.7,387.5 575.5,387.9 577.4,388.9 579.2,390.7 581.1,393 582.9,392.6 584.8,392.1 586.6,394.4 588.5,395.3 590.3,394.9 592.2,393.9 594,394.4 595.9,396.3 597.7,398.6 599.6,400.4 601.4,401.8 603.3,403.2 605.1,405.5 607,406.9 608.8,407.3 610.7,406.9 612.5,405.5 614.4,406 616.2,406 617.6,405.5" fill="none" stroke="#0000ff" stroke-width="2.1" stroke-linejoin="round" stroke-linecap="round"/>
<path d="M113.5,143.5 115.2,143.2 118.5,143 119.6,142.5 122.6,143.9 125.5,146.5 128.5,149.6 131.4,152.4 134.4,155.2 136.7,156.2 139.1,154.2 142,151.5 144.8,149 147,147 150,144.4 152.5,142.7 155,141 158.4,138.4 160.9,142.7 163.4,146.9 166.8,147.8 170.2,141.1 173.5,137.7 176,142.7 178.6,146.9 181.9,149.5 185.3,148.6 188.7,148.6 192,149.5 195.4,146.9 199.4,143.9 203.7,147 208.1,152.1 210.3,144.5 214.7,146.7 219,146.7 222.3,143.9 224.5,146.7 227.8,154.3 231,160.9 233.2,155.4 236.5,162 239.8,160.9 240,160.9 243.3,155.4 246.6,153.2 249.8,152.7 253.1,152.7 256.4,150.5 259.7,149.9 262,152 264.4,146.7 266.7,142 269.1,142 271.5,141 273.8,138.5 276.1,135.5 277.9,136.1 279.6,139.6 282,141.5 284.9,140.8 286.7,142 288.5,144.9 290.2,142.6 292,141.4 293.8,145.5 296.1,149.6 298.5,152 302,154.9 303.8,157.6 306.5,160.3 308.5,169.7 310.5,173.8 313.2,175.1 314.6,179.1 315.4,183.4 316.7,196.9 318.1,211.7 319.4,217.7 322.1,215.7 324.8,213 327.5,209 330.2,200.9 331.5,198.9 333.5,203.6 336.2,207.6 338.9,209 341.6,214.4 343.6,209 346.3,213 349,206.3 351.7,202.3 352.7,203.4 355.4,206.1 357.4,208.8 359.4,218.2 361.4,230.3 363.4,236.4 366.1,239.7 368.8,241.7 371.5,239.7 374.2,236.4 376.2,233 378.2,238.4 380.9,242.4 383.6,247.8 386.3,249.1 389.7,243.8 391.5,250.2 393,257.2 394.4,259.9 396,262.3 398.1,260.2 400.1,261.8 402.1,262.8 404.1,261.3 406.6,261.3 408.6,259.2 410.7,258.2 412.7,260.2 414.7,256.2 416.7,252.7 418.7,255.7 420.7,257.2 422.8,256.7 424.8,259.2 426.8,258.2 428.8,255.2 431.3,254.2 433.3,254.2 435.4,254.6 436.7,255.2 438.4,252.6 440,251 441.7,252.6 443.4,255.2 445.1,256.8 446.8,258.5 448.4,256.8 450.1,258.5 451.8,260.2 453.5,261.9 455.2,264.4 456.4,268.6 457.5,285 458.5,300 459.3,303 460,296 461,286 462.3,278 463.6,271.1 464.8,260.2 466.1,250.1 467.4,245.1 469,243.8 470.7,246.8 472,249.6 474,253.1 475.5,260.2 477,265.2 479.1,267.2 481.1,269.2 483.1,271.3 485.1,273.3 487.1,274.8 489.1,275.3 491.2,277.3 493.2,278.3 495.2,276.3 497.2,274.8 499.2,274.3 501.2,274.8 503.3,276.8 505.3,278.8 507.3,279.3 509.3,279.8 511.3,280.3 513.3,280.8 515,279.7 518,281.2 521,282.2 525.1,282.7 528.1,282.2 531.1,281.2 533.6,280.7 535.7,283.2 537.2,290.2 538.7,303.3 539.9,330.2 540.9,355.9 542.6,373.5 544.4,385.3 546.2,394.7 547.9,394.7 549.1,393.5 550.9,395.3 552.6,398.2 554.4,399.4 555.6,385.3 556.8,367.6 557.9,360.6 559.7,360 561.5,361.8 563.2,366.5 565.6,373.5 567.9,379.4 570.3,385.3 571.8,391.2 573.7,390.7 575.5,391.6 577.4,392.6 579.2,393.5 581.1,395.8 582.9,395.8 584.8,396.7 586.6,399 588.5,399.5 590.3,398.1 592.2,397.6 594,398.6 595.9,400.4 597.7,402.7 599.6,404.6 601.4,406.9 603.3,408.7 605.1,409.7 607,410.6 608.8,410.6 610.7,409.7 612.5,408.7 614.4,409.7 616.2,409.2 617.6,408.7" fill="none" stroke="#00ff00" stroke-width="2.1" stroke-linejoin="round" stroke-linecap="round"/>
<path d="M113.5,151.5 114.4,150.9 117.9,146.2 119.6,147.1 122,149.4 124.4,151.2 126.7,154.7 129.1,156.5 131.4,159.4 133.8,162.1 135.5,162.4 137.3,160.6 139.6,157.6 142,154.7 144,151.5 147,147.7 149.3,141.6 150.8,140.1 153.4,139.4 157.6,135.2 158.4,139.4 160.1,146.9 162.6,145.3 165.1,142.7 167.6,139.4 170.2,134.7 173.5,134.7 175.2,138.5 176.9,145.3 178.6,152 180.3,158.7 183.6,159.5 186.1,157.9 188.7,154.5 191.2,156.2 193.7,150.3 196.2,146.9 199.4,146.1 203.7,144.5 208.1,137.4 210.3,138.5 213.6,145.6 216.8,143.4 221.2,143.4 224.5,136.8 227.8,131.4 229.4,136.8 231,151 232.1,158.7 233.2,159.8 234.3,154.3 235.4,155.4 237,169.6 238.7,170.7 240.9,166.3 243,164.1 245.5,165.8 248.7,163 252,158.7 255.3,157 258.6,154.3 261.8,148.8 262,147.9 264.4,144.4 266.7,139.6 268.5,139.6 270.2,142.6 272.6,141.4 274.9,139.1 276.7,136.7 278.5,141.4 279.6,145.5 280.8,145.5 282.6,140.8 284.4,134.9 285.5,133.8 286.7,136.7 288.5,142 290.2,141.4 291.4,142 292.6,145.5 294.4,150.2 296.1,154.9 298.4,161.7 301.1,165.7 303.8,173.8 306.5,173.8 308.5,181.8 310.5,184.5 313.2,184.5 314.6,195.3 315.6,203 316.7,213 318.1,226.5 320.1,229.1 322.1,225.1 324.8,223.8 326.8,219.7 328.8,213 330.8,202.3 332.2,200.9 334.2,209 336.9,215.7 339.6,219.7 341.6,226.5 343.6,218.4 346.3,225.1 349,217 351.7,209 354.4,213 357,217 358.4,223.8 359.4,233 360.8,241.1 362.8,243.8 365.5,247.8 367.5,252.5 369.5,251.8 372.2,249.1 374.9,245.1 376.9,249.1 378.9,255.9 381.6,255.9 384.3,261.2 387,255.9 389.7,253.2 391.7,259.9 392.5,265.3 394,270.3 396,272.3 398.1,269.3 400.1,268.8 402.1,268.3 404.1,268.8 406.1,267.3 408.1,264.8 410.2,262.3 411.7,266.3 413.7,271.3 415.7,267.3 417.7,267.3 419.7,268.8 421.8,268.3 423.3,266.8 425.3,268.3 427.3,267.3 429.3,264.8 431.3,264.3 433.3,264.3 435.4,263.3 436.7,262.7 438.4,260.2 440,260.2 441.7,261.9 443.4,262.7 445.1,265.3 446.8,267.4 448.4,268.6 450.1,267.8 451.8,271.1 453.5,272.8 455.2,274.5 455.8,280 456.5,300 456.9,312 457.2,300 457.6,280 458.5,274 459.8,275 460.5,282 460.9,300 461.1,314 461.4,300 461.9,282 462.7,276 464.4,270.3 466.1,261.9 468,253.5 469.6,250.2 472,253.5 473.5,258.1 475,264.2 476.5,268.2 478.6,271.3 480.6,274.3 482.6,276.8 484.6,278.3 486.6,279.8 488.6,280.8 490.6,282.3 492.7,283.9 494.7,282.3 496.7,280.8 498.7,280.3 500.7,280.8 502.7,283.3 504.8,285.9 506.8,286.9 508.8,287.4 510.8,287.4 512.8,288.4 514.8,287.4 517,286.7 519,288.7 522.1,289.2 525.1,289.2 528.1,289.2 530.1,288.2 532.1,286.7 534.2,287.7 535.7,292.3 536.7,300.3 537.7,310.4 538.1,320.2 539.1,340.3 539.7,355.9 541.5,373.5 543.2,388.8 545,402.9 546.2,410 547.9,407.6 549.1,405.3 550.9,408.8 552.6,411.2 554.4,412.4 555.6,402.9 556.8,385.3 557.9,372.4 559.7,368.2 561.5,370 563.2,374.7 565.6,380.6 567.9,386.5 570.3,393.5 571.8,397.6 573.7,397.6 575.5,399 577.4,400 579.2,401.8 581.1,402.7 582.9,402.3 584.8,403.7 586.6,405.5 588.5,406 590.3,405.5 592.2,404.6 594,405 595.9,407.3 597.7,410.1 599.6,412.4 601.4,414.3 603.3,415.7 605.1,417.1 607,418 608.8,418 610.7,417.5 612.5,416.1 614.4,417.5 616.2,417.1 617.6,417.1" fill="none" stroke="#ff0000" stroke-width="2.1" stroke-linejoin="round" stroke-linecap="round"/>
</g>
<path d="M113.50 78.80V84.80M113.50 481.40V487.40M134.75 81.80V84.80M134.75 481.40V484.40M156.00 81.80V84.80M156.00 481.40V484.40M177.25 81.80V84.80M177.25 481.40V484.40M198.50 81.80V84.80M198.50 481.40V484.40M219.75 81.80V84.80M219.75 481.40V484.40M241.00 78.80V84.80M241.00 481.40V487.40M262.25 81.80V84.80M262.25 481.40V484.40M283.50 81.80V84.80M283.50 481.40V484.40M304.75 81.80V84.80M304.75 481.40V484.40M326.00 81.80V84.80M326.00 481.40V484.40M347.25 81.80V84.80M347.25 481.40V484.40M368.50 78.80V84.80M368.50 481.40V487.40M389.75 81.80V84.80M389.75 481.40V484.40M411.00 81.80V84.80M411.00 481.40V484.40M432.25 81.80V84.80M432.25 481.40V484.40M453.50 81.80V84.80M453.50 481.40V484.40M474.75 81.80V84.80M474.75 481.40V484.40M496.00 78.80V84.80M496.00 481.40V487.40M517.25 81.80V84.80M517.25 481.40V484.40M538.50 81.80V84.80M538.50 481.40V484.40M559.75 81.80V84.80M559.75 481.40V484.40M581.00 81.80V84.80M581.00 481.40V484.40M602.25 81.80V84.80M602.25 481.40V484.40M107.50 481.40H113.5M623.5 481.40H629.50M110.50 461.57H113.5M623.5 461.57H626.50M110.50 441.74H113.5M623.5 441.74H626.50M110.50 421.91H113.5M623.5 421.91H626.50M110.50 402.08H113.5M623.5 402.08H626.50M107.50 382.25H113.5M623.5 382.25H629.50M110.50 362.42H113.5M623.5 362.42H626.50M110.50 342.59H113.5M623.5 342.59H626.50M110.50 322.76H113.5M623.5 322.76H626.50M110.50 302.93H113.5M623.5 302.93H626.50M107.50 283.10H113.5M623.5 283.10H629.50M110.50 263.27H113.5M623.5 263.27H626.50M110.50 243.44H113.5M623.5 243.44H626.50M110.50 223.61H113.5M623.5 223.61H626.50M110.50 203.78H113.5M623.5 203.78H626.50M107.50 183.95H113.5M623.5 183.95H629.50M110.50 164.12H113.5M623.5 164.12H626.50M110.50 144.29H113.5M623.5 144.29H626.50M110.50 124.46H113.5M623.5 124.46H626.50M110.50 104.63H113.5M623.5 104.63H626.50M107.50 84.80H113.5M623.5 84.80H629.50" class="t"/>
<path d="M112.9 84.95H624.1" stroke="#000" stroke-width="1.9" fill="none" opacity="0.92"/>
<path d="M112.9 481.55H624.1" stroke="#000" stroke-width="1.3" fill="none"/>
<path d="M113.5 84H113.5V482.2M623.5 84V482.2" stroke="#000" stroke-width="1.25" fill="none"/>
<rect x="638.2" y="396.7" width="183.6" height="84.4" fill="none" stroke="#000" stroke-width="1.2"/>
<g stroke-width="2" fill="none">
<path d="M643 410.7H655" stroke="#ff0000"/>
<path d="M643 439.2H655" stroke="#00ff00"/>
<path d="M643 467.7H655" stroke="#0000ff"/>
</g>
<g stroke-width="1">
<circle cx="649" cy="410.7" r="1.6" fill="#ff9090" stroke="#ff9090"/>
<circle cx="649" cy="439.2" r="1.6" fill="#90ff90" stroke="#90ff90"/>
<circle cx="649" cy="467.7" r="1.6" fill="#9090ff" stroke="#9090ff"/>
</g>
</svg>
</body></html>
